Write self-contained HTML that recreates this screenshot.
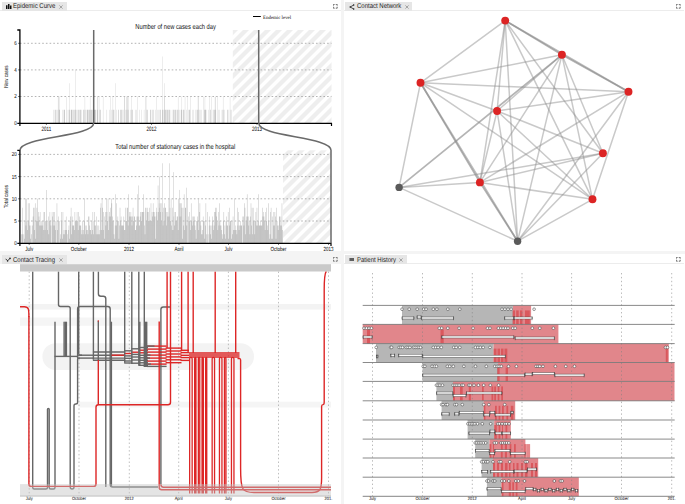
<!DOCTYPE html><html><head><meta charset="utf-8"><style>
html,body{margin:0;padding:0}
body{width:685px;height:504px;overflow:hidden;position:relative;background:#f4f4f4;font-family:"Liberation Sans", sans-serif}
.p{position:absolute;background:#fff;overflow:hidden}
svg text{font-family:"Liberation Sans", sans-serif}
*{text-rendering:geometricPrecision}
</style></head><body>
<div class="p" style="left:0;top:0;width:341px;height:251px"></div>
<div class="p" style="left:344px;top:0;width:341px;height:251px"></div>
<div class="p" style="left:0;top:264px;width:341px;height:240px"></div>
<div class="p" style="left:344px;top:254px;width:341px;height:250px"></div>
<div style="position:absolute;left:0;top:10px;width:341px;height:0.6px;background:#ececec"></div>
<div style="position:absolute;left:344px;top:10px;width:340px;height:0.6px;background:#ececec"></div>
<div style="position:absolute;left:344px;top:263.4px;width:340px;height:0.6px;background:#ececec"></div>
<div style="position:absolute;left:2px;top:2px;width:65px;height:8.8px;background:#e6e6e6"></div><svg style="position:absolute;left:5.6px;top:3.9px" width="6" height="5" viewBox="0 0 6 5"><path d="M0 1.2h1.5v3.8h-1.5zM2 0h1.5v5h-1.5zM4 1.6h1.5v3.4h-1.5z" fill="#111"/></svg><svg style="position:absolute;left:13px;top:2px;overflow:visible" width="60" height="8.8"><text transform="translate(0 6.0) scale(1 1.15)" font-size="6" fill="#222">Epidemic Curve</text></svg>
<svg style="position:absolute;left:58.5px;top:4.5px" width="4" height="4" viewBox="0 0 4 4"><path d="M0.4 0.4L3.6 3.6M3.6 0.4L0.4 3.6" stroke="#777" stroke-width="0.6"/></svg>
<svg style="position:absolute;left:333px;top:3.8px" width="5" height="5" viewBox="0 0 5 5"><rect x="0.5" y="0.5" width="3.6" height="3.6" fill="none" stroke="#bbb" stroke-width="0.5"/><path d="M0.4 1.6V0.4H1.6M3 0.4H4.2V1.6M4.2 3V4.2H3M1.6 4.2H0.4V3" fill="none" stroke="#555" stroke-width="0.7"/></svg>
<div style="position:absolute;left:345.2px;top:2.1px;width:66.4px;height:8.7px;background:#e6e6e6"></div><svg style="position:absolute;left:348.6px;top:3.6px" width="6" height="6" viewBox="0 0 6 6"><path d="M4.7 1L1.2 3L4.7 5" fill="none" stroke="#222" stroke-width="0.8"/><circle cx="4.7" cy="1" r="0.75" fill="#222"/><circle cx="1.2" cy="3" r="0.75" fill="#222"/><circle cx="4.7" cy="5" r="0.75" fill="#222"/></svg><svg style="position:absolute;left:356.5px;top:2.1px;overflow:visible" width="60" height="8.7"><text transform="translate(0 6.0) scale(1 1.15)" font-size="6" fill="#222">Contact Network</text></svg>
<svg style="position:absolute;left:404.5px;top:4.5px" width="4" height="4" viewBox="0 0 4 4"><path d="M0.4 0.4L3.6 3.6M3.6 0.4L0.4 3.6" stroke="#777" stroke-width="0.6"/></svg>
<svg style="position:absolute;left:676.3px;top:3.8px" width="5" height="5" viewBox="0 0 5 5"><rect x="0.5" y="0.5" width="3.6" height="3.6" fill="none" stroke="#bbb" stroke-width="0.5"/><path d="M0.4 1.6V0.4H1.6M3 0.4H4.2V1.6M4.2 3V4.2H3M1.6 4.2H0.4V3" fill="none" stroke="#555" stroke-width="0.7"/></svg>
<div style="position:absolute;left:2px;top:255px;width:65px;height:9px;background:#e6e6e6"></div><svg style="position:absolute;left:5px;top:256.8px" width="6" height="6" viewBox="0 0 6 6"><path d="M0.6 1.8L2.6 3.8L5 1.4" fill="none" stroke="#222" stroke-width="0.9"/><circle cx="5" cy="1.4" r="0.8" fill="#222"/><circle cx="2.6" cy="4" r="0.7" fill="#222"/></svg><svg style="position:absolute;left:13px;top:255px;overflow:visible" width="60" height="9"><text transform="translate(0 6.6) scale(1 1.15)" font-size="6" fill="#222">Contact Tracing</text></svg>
<svg style="position:absolute;left:58.5px;top:257.5px" width="4" height="4" viewBox="0 0 4 4"><path d="M0.4 0.4L3.6 3.6M3.6 0.4L0.4 3.6" stroke="#777" stroke-width="0.6"/></svg>
<svg style="position:absolute;left:333px;top:256.6px" width="5" height="5" viewBox="0 0 5 5"><rect x="0.5" y="0.5" width="3.6" height="3.6" fill="none" stroke="#bbb" stroke-width="0.5"/><path d="M0.4 1.6V0.4H1.6M3 0.4H4.2V1.6M4.2 3V4.2H3M1.6 4.2H0.4V3" fill="none" stroke="#555" stroke-width="0.7"/></svg>
<div style="position:absolute;left:345.1px;top:255.1px;width:61.6px;height:8.8px;background:#e6e6e6"></div><svg style="position:absolute;left:348.5px;top:257.1px" width="6" height="5" viewBox="0 0 6 5"><path d="M0.4 1.1h4.6v0.75h-4.6zM0.4 2.1h4.6v0.75h-4.6zM0.4 3.1h4.6v0.75h-4.6z" fill="#333"/></svg><svg style="position:absolute;left:356.5px;top:255.1px;overflow:visible" width="60" height="8.8"><text transform="translate(0 6.5) scale(1 1.15)" font-size="6" fill="#222">Patient History</text></svg>
<svg style="position:absolute;left:398.8px;top:257.6px" width="4" height="4" viewBox="0 0 4 4"><path d="M0.4 0.4L3.6 3.6M3.6 0.4L0.4 3.6" stroke="#777" stroke-width="0.6"/></svg>
<svg style="position:absolute;left:676.3px;top:256.6px" width="5" height="5" viewBox="0 0 5 5"><rect x="0.5" y="0.5" width="3.6" height="3.6" fill="none" stroke="#bbb" stroke-width="0.5"/><path d="M0.4 1.6V0.4H1.6M3 0.4H4.2V1.6M4.2 3V4.2H3M1.6 4.2H0.4V3" fill="none" stroke="#555" stroke-width="0.7"/></svg>
<svg style="position:absolute;left:0;top:0" width="341" height="251" viewBox="0 0 341 251">
<defs><pattern id="h1" patternUnits="userSpaceOnUse" width="11" height="11" x="1" y="0"><path d="M-3 3L3 -3M0 11L11 0M8 14L14 8" stroke="#eeeeee" stroke-width="4.3"/></pattern><pattern id="h2" patternUnits="userSpaceOnUse" width="11" height="11" x="1" y="0"><path d="M-3 3L3 -3M0 11L11 0M8 14L14 8" stroke="#eeeeee" stroke-width="4.3"/></pattern></defs>
<rect x="232.8" y="30" width="98.7" height="93.1" fill="url(#h1)"/>
<line x1="20" x2="331.5" y1="96.50" y2="96.50" stroke="#8a8a8a" stroke-width="0.65" stroke-dasharray="1.6 2.1"/>
<line x1="20" x2="331.5" y1="69.90" y2="69.90" stroke="#8a8a8a" stroke-width="0.65" stroke-dasharray="1.6 2.1"/>
<line x1="20" x2="331.5" y1="43.30" y2="43.30" stroke="#8a8a8a" stroke-width="0.65" stroke-dasharray="1.6 2.1"/>
<path d="M53.61 109.80h0.32V123.1h-0.32zM54.77 109.80h0.32V123.1h-0.32zM55.05 109.80h0.32V123.1h-0.32zM55.34 109.80h0.32V123.1h-0.32zM56.21 109.80h0.32V123.1h-0.32zM57.65 109.80h0.32V123.1h-0.32zM57.94 96.50h0.32V123.1h-0.32zM58.23 96.50h0.32V123.1h-0.32zM58.81 109.80h0.32V123.1h-0.32zM59.09 109.80h0.32V123.1h-0.32zM59.38 109.80h0.32V123.1h-0.32zM59.67 96.50h0.32V123.1h-0.32zM62.27 109.80h0.32V123.1h-0.32zM63.71 109.80h0.32V123.1h-0.32zM64.00 109.80h0.32V123.1h-0.32zM64.29 109.80h0.32V123.1h-0.32zM64.58 109.80h0.32V123.1h-0.32zM66.59 96.50h0.32V123.1h-0.32zM66.88 109.80h0.32V123.1h-0.32zM68.33 109.80h0.32V123.1h-0.32zM69.19 109.80h0.32V123.1h-0.32zM69.48 83.20h0.32V123.1h-0.32zM69.77 109.80h0.32V123.1h-0.32zM70.92 109.80h0.32V123.1h-0.32zM71.21 109.80h0.32V123.1h-0.32zM71.50 109.80h0.32V123.1h-0.32zM71.79 109.80h0.32V123.1h-0.32zM72.36 109.80h0.32V123.1h-0.32zM73.23 109.80h0.32V123.1h-0.32zM73.81 109.80h0.32V123.1h-0.32zM74.38 109.80h0.32V123.1h-0.32zM74.96 109.80h0.32V123.1h-0.32zM75.25 69.90h0.32V123.1h-0.32zM75.54 109.80h0.32V123.1h-0.32zM76.40 109.80h0.32V123.1h-0.32zM76.98 109.80h0.32V123.1h-0.32zM78.13 109.80h0.32V123.1h-0.32zM78.71 109.80h0.32V123.1h-0.32zM79.00 109.80h0.32V123.1h-0.32zM79.87 109.80h0.32V123.1h-0.32zM80.15 109.80h0.32V123.1h-0.32zM80.44 109.80h0.32V123.1h-0.32zM81.02 109.80h0.32V123.1h-0.32zM83.33 109.80h0.32V123.1h-0.32zM83.62 109.80h0.32V123.1h-0.32zM84.48 109.80h0.32V123.1h-0.32zM84.77 96.50h0.32V123.1h-0.32zM85.06 109.80h0.32V123.1h-0.32zM85.92 109.80h0.32V123.1h-0.32zM87.08 109.80h0.32V123.1h-0.32zM87.37 109.80h0.32V123.1h-0.32zM87.66 109.80h0.32V123.1h-0.32zM88.23 109.80h0.32V123.1h-0.32zM88.81 109.80h0.32V123.1h-0.32zM89.39 109.80h0.32V123.1h-0.32zM89.67 109.80h0.32V123.1h-0.32zM89.96 96.50h0.32V123.1h-0.32zM90.25 109.80h0.32V123.1h-0.32zM90.83 109.80h0.32V123.1h-0.32zM91.12 109.80h0.32V123.1h-0.32zM91.41 109.80h0.32V123.1h-0.32zM92.27 109.80h0.32V123.1h-0.32zM92.85 109.80h0.32V123.1h-0.32zM93.14 96.50h0.32V123.1h-0.32zM93.43 109.80h0.32V123.1h-0.32zM93.71 109.80h0.32V123.1h-0.32zM94.00 109.80h0.32V123.1h-0.32zM94.29 109.80h0.32V123.1h-0.32zM94.58 109.80h0.32V123.1h-0.32zM94.87 109.80h0.32V123.1h-0.32zM95.16 109.80h0.32V123.1h-0.32zM95.44 109.80h0.32V123.1h-0.32zM96.89 109.80h0.32V123.1h-0.32zM97.18 109.80h0.32V123.1h-0.32zM97.46 96.50h0.32V123.1h-0.32zM97.75 96.50h0.32V123.1h-0.32zM98.91 96.50h0.32V123.1h-0.32zM99.48 109.80h0.32V123.1h-0.32zM100.06 109.80h0.32V123.1h-0.32zM100.64 109.80h0.32V123.1h-0.32zM102.95 96.50h0.32V123.1h-0.32zM106.70 109.80h0.32V123.1h-0.32zM109.58 109.80h0.32V123.1h-0.32zM110.16 96.50h0.32V123.1h-0.32zM111.02 109.80h0.32V123.1h-0.32zM112.47 109.80h0.32V123.1h-0.32zM112.75 96.50h0.32V123.1h-0.32zM113.04 109.80h0.32V123.1h-0.32zM113.62 109.80h0.32V123.1h-0.32zM113.91 109.80h0.32V123.1h-0.32zM115.64 83.20h0.32V123.1h-0.32zM116.22 109.80h0.32V123.1h-0.32zM118.24 109.80h0.32V123.1h-0.32zM118.53 109.80h0.32V123.1h-0.32zM120.26 109.80h0.32V123.1h-0.32zM120.54 109.80h0.32V123.1h-0.32zM121.12 109.80h0.32V123.1h-0.32zM121.41 109.80h0.32V123.1h-0.32zM122.56 109.80h0.32V123.1h-0.32zM123.72 109.80h0.32V123.1h-0.32zM124.01 96.50h0.32V123.1h-0.32zM124.58 96.50h0.32V123.1h-0.32zM125.45 109.80h0.32V123.1h-0.32zM126.03 96.50h0.32V123.1h-0.32zM126.31 109.80h0.32V123.1h-0.32zM126.89 96.50h0.32V123.1h-0.32zM127.18 96.50h0.32V123.1h-0.32zM127.76 109.80h0.32V123.1h-0.32zM128.05 109.80h0.32V123.1h-0.32zM128.33 96.50h0.32V123.1h-0.32zM130.64 109.80h0.32V123.1h-0.32zM131.22 109.80h0.32V123.1h-0.32zM131.51 96.50h0.32V123.1h-0.32zM132.37 109.80h0.32V123.1h-0.32zM132.66 109.80h0.32V123.1h-0.32zM135.26 109.80h0.32V123.1h-0.32zM136.12 109.80h0.32V123.1h-0.32zM136.99 96.50h0.32V123.1h-0.32zM139.59 109.80h0.32V123.1h-0.32zM141.03 109.80h0.32V123.1h-0.32zM143.91 109.80h0.32V123.1h-0.32zM145.36 96.50h0.32V123.1h-0.32zM145.93 96.50h0.32V123.1h-0.32zM146.51 109.80h0.32V123.1h-0.32zM147.38 109.80h0.32V123.1h-0.32zM147.66 109.80h0.32V123.1h-0.32zM149.97 109.80h0.32V123.1h-0.32zM150.26 109.80h0.32V123.1h-0.32zM150.84 109.80h0.32V123.1h-0.32zM152.57 109.80h0.32V123.1h-0.32zM152.86 109.80h0.32V123.1h-0.32zM153.72 109.80h0.32V123.1h-0.32zM155.16 109.80h0.32V123.1h-0.32zM156.32 96.50h0.32V123.1h-0.32zM157.18 109.80h0.32V123.1h-0.32zM158.63 109.80h0.32V123.1h-0.32zM159.20 109.80h0.32V123.1h-0.32zM160.07 109.80h0.32V123.1h-0.32zM160.65 109.80h0.32V123.1h-0.32zM162.09 109.80h0.32V123.1h-0.32zM162.38 56.60h0.32V123.1h-0.32zM162.67 109.80h0.32V123.1h-0.32zM163.53 109.80h0.32V123.1h-0.32zM164.11 96.50h0.32V123.1h-0.32zM164.40 83.20h0.32V123.1h-0.32zM164.69 109.80h0.32V123.1h-0.32zM164.97 109.80h0.32V123.1h-0.32zM165.55 109.80h0.32V123.1h-0.32zM165.84 109.80h0.32V123.1h-0.32zM166.42 109.80h0.32V123.1h-0.32zM166.99 109.80h0.32V123.1h-0.32zM167.57 109.80h0.32V123.1h-0.32zM167.86 109.80h0.32V123.1h-0.32zM168.72 109.80h0.32V123.1h-0.32zM169.01 109.80h0.32V123.1h-0.32zM169.59 109.80h0.32V123.1h-0.32zM169.88 109.80h0.32V123.1h-0.32zM171.90 109.80h0.32V123.1h-0.32zM173.05 109.80h0.32V123.1h-0.32zM173.34 109.80h0.32V123.1h-0.32zM173.92 109.80h0.32V123.1h-0.32zM174.78 109.80h0.32V123.1h-0.32zM175.07 109.80h0.32V123.1h-0.32zM175.65 109.80h0.32V123.1h-0.32zM175.94 109.80h0.32V123.1h-0.32zM177.09 109.80h0.32V123.1h-0.32zM177.38 109.80h0.32V123.1h-0.32zM177.96 96.50h0.32V123.1h-0.32zM178.24 109.80h0.32V123.1h-0.32zM179.40 109.80h0.32V123.1h-0.32zM180.84 109.80h0.32V123.1h-0.32zM181.13 109.80h0.32V123.1h-0.32zM181.42 109.80h0.32V123.1h-0.32zM181.71 96.50h0.32V123.1h-0.32zM182.86 109.80h0.32V123.1h-0.32zM183.15 109.80h0.32V123.1h-0.32zM183.44 109.80h0.32V123.1h-0.32zM184.59 109.80h0.32V123.1h-0.32zM184.88 96.50h0.32V123.1h-0.32zM186.03 109.80h0.32V123.1h-0.32zM187.48 96.50h0.32V123.1h-0.32zM188.34 109.80h0.32V123.1h-0.32zM189.21 109.80h0.32V123.1h-0.32zM189.50 109.80h0.32V123.1h-0.32zM189.78 109.80h0.32V123.1h-0.32zM190.36 96.50h0.32V123.1h-0.32zM192.09 109.80h0.32V123.1h-0.32zM193.53 109.80h0.32V123.1h-0.32zM194.98 109.80h0.32V123.1h-0.32zM196.71 109.80h0.32V123.1h-0.32zM197.29 109.80h0.32V123.1h-0.32zM197.57 109.80h0.32V123.1h-0.32zM197.86 96.50h0.32V123.1h-0.32zM198.44 96.50h0.32V123.1h-0.32zM198.73 109.80h0.32V123.1h-0.32zM199.59 109.80h0.32V123.1h-0.32zM200.46 109.80h0.32V123.1h-0.32zM201.61 109.80h0.32V123.1h-0.32zM203.34 96.50h0.32V123.1h-0.32zM204.21 109.80h0.32V123.1h-0.32zM204.50 109.80h0.32V123.1h-0.32zM204.79 96.50h0.32V123.1h-0.32zM205.07 109.80h0.32V123.1h-0.32zM205.36 109.80h0.32V123.1h-0.32zM205.65 109.80h0.32V123.1h-0.32zM205.94 109.80h0.32V123.1h-0.32zM208.54 109.80h0.32V123.1h-0.32zM209.40 96.50h0.32V123.1h-0.32zM209.98 109.80h0.32V123.1h-0.32zM210.56 109.80h0.32V123.1h-0.32zM211.42 96.50h0.32V123.1h-0.32zM212.86 109.80h0.32V123.1h-0.32zM213.15 109.80h0.32V123.1h-0.32zM214.02 109.80h0.32V123.1h-0.32zM214.60 109.80h0.32V123.1h-0.32zM214.88 96.50h0.32V123.1h-0.32zM215.17 109.80h0.32V123.1h-0.32zM215.46 96.50h0.32V123.1h-0.32zM215.75 109.80h0.32V123.1h-0.32zM217.19 96.50h0.32V123.1h-0.32zM218.06 109.80h0.32V123.1h-0.32zM219.50 109.80h0.32V123.1h-0.32zM221.81 109.80h0.32V123.1h-0.32zM222.67 109.80h0.32V123.1h-0.32zM222.96 96.50h0.32V123.1h-0.32zM223.54 109.80h0.32V123.1h-0.32zM224.69 109.80h0.32V123.1h-0.32zM227.00 109.80h0.32V123.1h-0.32zM227.29 109.80h0.32V123.1h-0.32zM228.73 109.80h0.32V123.1h-0.32zM229.89 96.50h0.32V123.1h-0.32zM230.75 109.80h0.32V123.1h-0.32zM231.04 109.80h0.32V123.1h-0.32z" fill="#c6c6c6"/>
<path d="M17.3 30H19.9V123.4H17.3" fill="none" stroke="#000" stroke-width="1.3"/>
<path d="M19.9 125.9V123.4H331.5V125.9" fill="none" stroke="#000" stroke-width="1.2"/>
<line x1="18" x2="20" y1="96.50" y2="96.50" stroke="#000" stroke-width="0.5"/>
<line x1="18" x2="20" y1="69.90" y2="69.90" stroke="#000" stroke-width="0.5"/>
<line x1="18" x2="20" y1="43.30" y2="43.30" stroke="#000" stroke-width="0.5"/>
<line x1="46.4" x2="46.4" y1="123.1" y2="125" stroke="#000" stroke-width="0.5"/>
<line x1="151.5" x2="151.5" y1="123.1" y2="125" stroke="#000" stroke-width="0.5"/>
<line x1="257" x2="257" y1="123.1" y2="125" stroke="#000" stroke-width="0.5"/>
<text transform="translate(16.8 125.0) scale(1 1.3)" font-size="4.5" text-anchor="end" fill="#000">0</text>
<text transform="translate(16.8 98.4) scale(1 1.3)" font-size="4.5" text-anchor="end" fill="#000">2</text>
<text transform="translate(16.8 71.8) scale(1 1.3)" font-size="4.5" text-anchor="end" fill="#000">4</text>
<text transform="translate(16.8 45.19999999999998) scale(1 1.3)" font-size="4.5" text-anchor="end" fill="#000">6</text>
<text transform="translate(46.4 130.9) scale(1 1.4)" font-size="4.5" text-anchor="middle" fill="#000">2011</text>
<text transform="translate(151.5 130.9) scale(1 1.4)" font-size="4.5" text-anchor="middle" fill="#000">2012</text>
<text transform="translate(257 130.9) scale(1 1.4)" font-size="4.5" text-anchor="middle" fill="#000">2013</text>
<text transform="translate(8.3 76.6) rotate(-90) scale(1 1.25)" font-size="4.6" text-anchor="middle" fill="#000">New cases</text>
<text transform="translate(175.6 29.0) scale(1 1.25)" font-size="5.75" text-anchor="middle" fill="#111">Number of new cases each day</text>
<line x1="253" x2="260.8" y1="16.5" y2="16.5" stroke="#000" stroke-width="1"/>
<text x="263" y="18.6" font-size="4.9" fill="#000" style="font-family:'Liberation Serif',serif">Endemic level</text>
<rect x="283" y="150.3" width="48" height="92.9" fill="url(#h2)"/>
<line x1="20" x2="331" y1="221.00" y2="221.00" stroke="#8a8a8a" stroke-width="0.65" stroke-dasharray="1.6 2.1"/>
<line x1="20" x2="331" y1="198.80" y2="198.80" stroke="#8a8a8a" stroke-width="0.65" stroke-dasharray="1.6 2.1"/>
<line x1="20" x2="331" y1="176.60" y2="176.60" stroke="#8a8a8a" stroke-width="0.65" stroke-dasharray="1.6 2.1"/>
<line x1="20" x2="331" y1="154.40" y2="154.40" stroke="#8a8a8a" stroke-width="0.65" stroke-dasharray="1.6 2.1"/>
<path d="M21.39 234.32h0.5V243.2h-0.5zM21.93 234.32h0.5V243.2h-0.5zM22.47 207.68h0.5V243.2h-0.5zM23.56 234.32h0.5V243.2h-0.5zM24.10 238.76h0.5V243.2h-0.5zM24.65 221.00h0.5V243.2h-0.5zM25.19 198.80h0.5V243.2h-0.5zM25.73 225.44h0.5V243.2h-0.5zM26.28 198.80h0.5V243.2h-0.5zM26.82 221.00h0.5V243.2h-0.5zM27.37 229.88h0.5V243.2h-0.5zM27.91 203.24h0.5V243.2h-0.5zM28.45 221.00h0.5V243.2h-0.5zM29.00 203.24h0.5V243.2h-0.5zM29.54 225.44h0.5V243.2h-0.5zM30.08 238.76h0.5V243.2h-0.5zM30.63 225.44h0.5V243.2h-0.5zM31.17 234.32h0.5V243.2h-0.5zM32.26 225.44h0.5V243.2h-0.5zM32.80 216.56h0.5V243.2h-0.5zM33.34 207.68h0.5V243.2h-0.5zM33.89 207.68h0.5V243.2h-0.5zM34.43 229.88h0.5V243.2h-0.5zM34.97 203.24h0.5V243.2h-0.5zM35.52 238.76h0.5V243.2h-0.5zM36.06 221.00h0.5V243.2h-0.5zM36.61 207.68h0.5V243.2h-0.5zM37.15 198.80h0.5V243.2h-0.5zM37.69 221.00h0.5V243.2h-0.5zM38.24 212.12h0.5V243.2h-0.5zM38.78 216.56h0.5V243.2h-0.5zM39.32 225.44h0.5V243.2h-0.5zM39.87 212.12h0.5V243.2h-0.5zM40.41 225.44h0.5V243.2h-0.5zM40.95 221.00h0.5V243.2h-0.5zM41.50 225.44h0.5V243.2h-0.5zM42.04 221.00h0.5V243.2h-0.5zM42.58 225.44h0.5V243.2h-0.5zM43.13 229.88h0.5V243.2h-0.5zM43.67 212.12h0.5V243.2h-0.5zM44.21 212.12h0.5V243.2h-0.5zM44.76 229.88h0.5V243.2h-0.5zM45.30 221.00h0.5V243.2h-0.5zM45.84 221.00h0.5V243.2h-0.5zM46.39 189.92h0.5V243.2h-0.5zM46.93 221.00h0.5V243.2h-0.5zM47.48 229.88h0.5V243.2h-0.5zM48.02 216.56h0.5V243.2h-0.5zM48.56 234.32h0.5V243.2h-0.5zM49.11 221.00h0.5V243.2h-0.5zM49.65 212.12h0.5V243.2h-0.5zM50.19 221.00h0.5V243.2h-0.5zM50.74 225.44h0.5V243.2h-0.5zM51.82 212.12h0.5V243.2h-0.5zM52.37 216.56h0.5V243.2h-0.5zM52.91 225.44h0.5V243.2h-0.5zM53.45 212.12h0.5V243.2h-0.5zM54.00 212.12h0.5V243.2h-0.5zM54.54 225.44h0.5V243.2h-0.5zM55.08 229.88h0.5V243.2h-0.5zM55.63 221.00h0.5V243.2h-0.5zM56.71 203.24h0.5V243.2h-0.5zM57.26 229.88h0.5V243.2h-0.5zM57.80 221.00h0.5V243.2h-0.5zM58.34 216.56h0.5V243.2h-0.5zM59.43 221.00h0.5V243.2h-0.5zM59.98 238.76h0.5V243.2h-0.5zM60.52 234.32h0.5V243.2h-0.5zM61.06 212.12h0.5V243.2h-0.5zM61.61 221.00h0.5V243.2h-0.5zM62.15 238.76h0.5V243.2h-0.5zM62.69 212.12h0.5V243.2h-0.5zM63.24 234.32h0.5V243.2h-0.5zM63.78 229.88h0.5V243.2h-0.5zM64.32 234.32h0.5V243.2h-0.5zM64.87 221.00h0.5V243.2h-0.5zM65.41 229.88h0.5V243.2h-0.5zM65.95 216.56h0.5V243.2h-0.5zM66.50 229.88h0.5V243.2h-0.5zM67.04 234.32h0.5V243.2h-0.5zM68.13 229.88h0.5V243.2h-0.5zM68.67 225.44h0.5V243.2h-0.5zM69.22 238.76h0.5V243.2h-0.5zM69.76 221.00h0.5V243.2h-0.5zM70.30 216.56h0.5V243.2h-0.5zM70.85 207.68h0.5V243.2h-0.5zM71.39 234.32h0.5V243.2h-0.5zM71.93 216.56h0.5V243.2h-0.5zM72.48 225.44h0.5V243.2h-0.5zM73.02 225.44h0.5V243.2h-0.5zM73.56 225.44h0.5V243.2h-0.5zM74.11 229.88h0.5V243.2h-0.5zM74.65 212.12h0.5V243.2h-0.5zM75.19 221.00h0.5V243.2h-0.5zM75.74 221.00h0.5V243.2h-0.5zM76.28 221.00h0.5V243.2h-0.5zM76.82 212.12h0.5V243.2h-0.5zM77.37 221.00h0.5V243.2h-0.5zM77.91 229.88h0.5V243.2h-0.5zM78.45 212.12h0.5V243.2h-0.5zM79.00 225.44h0.5V243.2h-0.5zM79.54 216.56h0.5V243.2h-0.5zM80.09 225.44h0.5V243.2h-0.5zM80.63 225.44h0.5V243.2h-0.5zM81.17 234.32h0.5V243.2h-0.5zM81.72 229.88h0.5V243.2h-0.5zM82.26 221.00h0.5V243.2h-0.5zM82.80 234.32h0.5V243.2h-0.5zM83.35 229.88h0.5V243.2h-0.5zM83.89 221.00h0.5V243.2h-0.5zM84.43 198.80h0.5V243.2h-0.5zM84.98 234.32h0.5V243.2h-0.5zM85.52 225.44h0.5V243.2h-0.5zM86.06 225.44h0.5V243.2h-0.5zM86.61 229.88h0.5V243.2h-0.5zM87.15 229.88h0.5V243.2h-0.5zM87.69 234.32h0.5V243.2h-0.5zM88.24 216.56h0.5V243.2h-0.5zM88.78 216.56h0.5V243.2h-0.5zM89.32 225.44h0.5V243.2h-0.5zM89.87 229.88h0.5V243.2h-0.5zM90.41 229.88h0.5V243.2h-0.5zM90.95 234.32h0.5V243.2h-0.5zM91.50 221.00h0.5V243.2h-0.5zM92.04 229.88h0.5V243.2h-0.5zM92.59 212.12h0.5V243.2h-0.5zM93.13 234.32h0.5V243.2h-0.5zM93.67 221.00h0.5V243.2h-0.5zM94.22 212.12h0.5V243.2h-0.5zM94.76 225.44h0.5V243.2h-0.5zM95.30 225.44h0.5V243.2h-0.5zM95.85 234.32h0.5V243.2h-0.5zM96.39 216.56h0.5V243.2h-0.5zM96.93 225.44h0.5V243.2h-0.5zM97.48 234.32h0.5V243.2h-0.5zM98.02 234.32h0.5V243.2h-0.5zM98.56 225.44h0.5V243.2h-0.5zM99.11 234.32h0.5V243.2h-0.5zM99.65 229.88h0.5V243.2h-0.5zM100.19 207.68h0.5V243.2h-0.5zM100.74 203.24h0.5V243.2h-0.5zM101.28 229.88h0.5V243.2h-0.5zM101.83 198.80h0.5V243.2h-0.5zM102.37 207.68h0.5V243.2h-0.5zM102.91 229.88h0.5V243.2h-0.5zM103.46 212.12h0.5V243.2h-0.5zM104.00 238.76h0.5V243.2h-0.5zM104.54 216.56h0.5V243.2h-0.5zM105.09 212.12h0.5V243.2h-0.5zM105.63 225.44h0.5V243.2h-0.5zM106.17 198.80h0.5V243.2h-0.5zM106.72 212.12h0.5V243.2h-0.5zM107.26 221.00h0.5V243.2h-0.5zM107.80 198.80h0.5V243.2h-0.5zM108.35 229.88h0.5V243.2h-0.5zM108.89 216.56h0.5V243.2h-0.5zM109.43 212.12h0.5V243.2h-0.5zM109.98 207.68h0.5V243.2h-0.5zM110.52 216.56h0.5V243.2h-0.5zM111.06 198.80h0.5V243.2h-0.5zM111.61 203.24h0.5V243.2h-0.5zM112.15 216.56h0.5V243.2h-0.5zM112.69 221.00h0.5V243.2h-0.5zM113.24 221.00h0.5V243.2h-0.5zM113.78 234.32h0.5V243.2h-0.5zM114.33 238.76h0.5V243.2h-0.5zM114.87 225.44h0.5V243.2h-0.5zM115.41 194.36h0.5V243.2h-0.5zM115.96 225.44h0.5V243.2h-0.5zM116.50 203.24h0.5V243.2h-0.5zM117.04 221.00h0.5V243.2h-0.5zM117.59 216.56h0.5V243.2h-0.5zM118.13 221.00h0.5V243.2h-0.5zM118.67 238.76h0.5V243.2h-0.5zM119.22 225.44h0.5V243.2h-0.5zM119.76 207.68h0.5V243.2h-0.5zM120.30 221.00h0.5V243.2h-0.5zM120.85 216.56h0.5V243.2h-0.5zM121.39 225.44h0.5V243.2h-0.5zM121.93 225.44h0.5V243.2h-0.5zM122.48 225.44h0.5V243.2h-0.5zM123.02 225.44h0.5V243.2h-0.5zM123.56 216.56h0.5V243.2h-0.5zM124.11 229.88h0.5V243.2h-0.5zM124.65 229.88h0.5V243.2h-0.5zM125.20 207.68h0.5V243.2h-0.5zM125.74 221.00h0.5V243.2h-0.5zM126.28 221.00h0.5V243.2h-0.5zM126.83 207.68h0.5V243.2h-0.5zM127.37 207.68h0.5V243.2h-0.5zM127.91 225.44h0.5V243.2h-0.5zM128.46 194.36h0.5V243.2h-0.5zM129.00 212.12h0.5V243.2h-0.5zM129.54 216.56h0.5V243.2h-0.5zM130.09 216.56h0.5V243.2h-0.5zM130.63 212.12h0.5V243.2h-0.5zM131.17 216.56h0.5V243.2h-0.5zM131.72 225.44h0.5V243.2h-0.5zM132.26 216.56h0.5V243.2h-0.5zM132.80 207.68h0.5V243.2h-0.5zM133.35 221.00h0.5V243.2h-0.5zM133.89 216.56h0.5V243.2h-0.5zM134.44 216.56h0.5V243.2h-0.5zM134.98 229.88h0.5V243.2h-0.5zM135.52 229.88h0.5V243.2h-0.5zM136.07 225.44h0.5V243.2h-0.5zM136.61 216.56h0.5V243.2h-0.5zM137.15 194.36h0.5V243.2h-0.5zM137.70 216.56h0.5V243.2h-0.5zM138.24 216.56h0.5V243.2h-0.5zM138.78 225.44h0.5V243.2h-0.5zM139.33 225.44h0.5V243.2h-0.5zM139.87 216.56h0.5V243.2h-0.5zM140.41 212.12h0.5V243.2h-0.5zM140.96 212.12h0.5V243.2h-0.5zM141.50 221.00h0.5V243.2h-0.5zM142.04 212.12h0.5V243.2h-0.5zM142.59 212.12h0.5V243.2h-0.5zM143.13 194.36h0.5V243.2h-0.5zM143.67 212.12h0.5V243.2h-0.5zM144.22 225.44h0.5V243.2h-0.5zM144.76 234.32h0.5V243.2h-0.5zM145.31 207.68h0.5V243.2h-0.5zM145.85 207.68h0.5V243.2h-0.5zM146.39 221.00h0.5V243.2h-0.5zM146.94 212.12h0.5V243.2h-0.5zM147.48 207.68h0.5V243.2h-0.5zM148.02 212.12h0.5V243.2h-0.5zM148.57 221.00h0.5V243.2h-0.5zM149.11 207.68h0.5V243.2h-0.5zM149.65 221.00h0.5V243.2h-0.5zM150.20 221.00h0.5V243.2h-0.5zM150.74 203.24h0.5V243.2h-0.5zM151.28 221.00h0.5V243.2h-0.5zM151.83 212.12h0.5V243.2h-0.5zM152.37 216.56h0.5V243.2h-0.5zM152.91 203.24h0.5V243.2h-0.5zM153.46 212.12h0.5V243.2h-0.5zM154.00 216.56h0.5V243.2h-0.5zM154.54 212.12h0.5V243.2h-0.5zM155.09 238.76h0.5V243.2h-0.5zM155.63 216.56h0.5V243.2h-0.5zM156.18 207.68h0.5V243.2h-0.5zM156.72 212.12h0.5V243.2h-0.5zM157.26 221.00h0.5V243.2h-0.5zM157.81 185.48h0.5V243.2h-0.5zM158.35 212.12h0.5V243.2h-0.5zM158.89 203.24h0.5V243.2h-0.5zM159.44 207.68h0.5V243.2h-0.5zM159.98 212.12h0.5V243.2h-0.5zM160.52 203.24h0.5V243.2h-0.5zM161.07 221.00h0.5V243.2h-0.5zM161.61 203.24h0.5V243.2h-0.5zM162.15 212.12h0.5V243.2h-0.5zM162.70 225.44h0.5V243.2h-0.5zM163.24 207.68h0.5V243.2h-0.5zM163.78 221.00h0.5V243.2h-0.5zM164.33 203.24h0.5V243.2h-0.5zM164.87 207.68h0.5V243.2h-0.5zM165.41 207.68h0.5V243.2h-0.5zM165.96 212.12h0.5V243.2h-0.5zM166.50 225.44h0.5V243.2h-0.5zM167.05 216.56h0.5V243.2h-0.5zM167.59 212.12h0.5V243.2h-0.5zM168.13 216.56h0.5V243.2h-0.5zM168.68 198.80h0.5V243.2h-0.5zM169.22 216.56h0.5V243.2h-0.5zM169.76 207.68h0.5V243.2h-0.5zM170.31 221.00h0.5V243.2h-0.5zM170.85 198.80h0.5V243.2h-0.5zM171.39 225.44h0.5V243.2h-0.5zM171.94 229.88h0.5V243.2h-0.5zM172.48 207.68h0.5V243.2h-0.5zM173.02 229.88h0.5V243.2h-0.5zM173.57 216.56h0.5V243.2h-0.5zM174.11 225.44h0.5V243.2h-0.5zM174.65 212.12h0.5V243.2h-0.5zM175.20 212.12h0.5V243.2h-0.5zM175.74 221.00h0.5V243.2h-0.5zM176.28 221.00h0.5V243.2h-0.5zM176.83 216.56h0.5V243.2h-0.5zM177.37 216.56h0.5V243.2h-0.5zM177.91 229.88h0.5V243.2h-0.5zM178.46 198.80h0.5V243.2h-0.5zM179.00 216.56h0.5V243.2h-0.5zM179.55 203.24h0.5V243.2h-0.5zM180.09 203.24h0.5V243.2h-0.5zM180.63 216.56h0.5V243.2h-0.5zM181.18 203.24h0.5V243.2h-0.5zM181.72 207.68h0.5V243.2h-0.5zM182.26 238.76h0.5V243.2h-0.5zM182.81 207.68h0.5V243.2h-0.5zM183.35 225.44h0.5V243.2h-0.5zM183.89 194.36h0.5V243.2h-0.5zM184.44 229.88h0.5V243.2h-0.5zM184.98 207.68h0.5V243.2h-0.5zM185.52 207.68h0.5V243.2h-0.5zM186.07 225.44h0.5V243.2h-0.5zM186.61 225.44h0.5V243.2h-0.5zM187.15 198.80h0.5V243.2h-0.5zM188.24 216.56h0.5V243.2h-0.5zM188.78 221.00h0.5V243.2h-0.5zM189.33 212.12h0.5V243.2h-0.5zM189.87 221.00h0.5V243.2h-0.5zM190.42 229.88h0.5V243.2h-0.5zM190.96 203.24h0.5V243.2h-0.5zM191.50 221.00h0.5V243.2h-0.5zM192.05 225.44h0.5V243.2h-0.5zM192.59 216.56h0.5V243.2h-0.5zM193.13 216.56h0.5V243.2h-0.5zM193.68 221.00h0.5V243.2h-0.5zM194.22 216.56h0.5V243.2h-0.5zM194.76 225.44h0.5V243.2h-0.5zM195.31 229.88h0.5V243.2h-0.5zM195.85 238.76h0.5V243.2h-0.5zM196.39 221.00h0.5V243.2h-0.5zM196.94 221.00h0.5V243.2h-0.5zM197.48 216.56h0.5V243.2h-0.5zM198.02 198.80h0.5V243.2h-0.5zM198.57 229.88h0.5V243.2h-0.5zM199.11 212.12h0.5V243.2h-0.5zM199.66 203.24h0.5V243.2h-0.5zM200.20 221.00h0.5V243.2h-0.5zM200.74 225.44h0.5V243.2h-0.5zM201.29 234.32h0.5V243.2h-0.5zM201.83 234.32h0.5V243.2h-0.5zM202.37 229.88h0.5V243.2h-0.5zM202.92 216.56h0.5V243.2h-0.5zM203.46 221.00h0.5V243.2h-0.5zM204.00 221.00h0.5V243.2h-0.5zM204.55 238.76h0.5V243.2h-0.5zM205.09 225.44h0.5V243.2h-0.5zM205.63 203.24h0.5V243.2h-0.5zM206.18 234.32h0.5V243.2h-0.5zM207.26 212.12h0.5V243.2h-0.5zM207.81 234.32h0.5V243.2h-0.5zM208.89 225.44h0.5V243.2h-0.5zM209.44 216.56h0.5V243.2h-0.5zM209.98 225.44h0.5V243.2h-0.5zM210.52 234.32h0.5V243.2h-0.5zM211.07 238.76h0.5V243.2h-0.5zM211.61 225.44h0.5V243.2h-0.5zM212.16 216.56h0.5V243.2h-0.5zM212.70 221.00h0.5V243.2h-0.5zM213.24 229.88h0.5V243.2h-0.5zM213.79 225.44h0.5V243.2h-0.5zM214.33 212.12h0.5V243.2h-0.5zM214.87 212.12h0.5V243.2h-0.5zM215.42 207.68h0.5V243.2h-0.5zM215.96 207.68h0.5V243.2h-0.5zM216.50 216.56h0.5V243.2h-0.5zM217.05 221.00h0.5V243.2h-0.5zM217.59 229.88h0.5V243.2h-0.5zM218.13 212.12h0.5V243.2h-0.5zM218.68 225.44h0.5V243.2h-0.5zM219.22 203.24h0.5V243.2h-0.5zM219.76 221.00h0.5V243.2h-0.5zM220.31 225.44h0.5V243.2h-0.5zM220.85 225.44h0.5V243.2h-0.5zM221.39 229.88h0.5V243.2h-0.5zM221.94 234.32h0.5V243.2h-0.5zM222.48 238.76h0.5V243.2h-0.5zM223.03 221.00h0.5V243.2h-0.5zM223.57 212.12h0.5V243.2h-0.5zM224.11 234.32h0.5V243.2h-0.5zM224.66 225.44h0.5V243.2h-0.5zM225.20 238.76h0.5V243.2h-0.5zM225.74 221.00h0.5V243.2h-0.5zM226.29 216.56h0.5V243.2h-0.5zM226.83 225.44h0.5V243.2h-0.5zM227.37 225.44h0.5V243.2h-0.5zM227.92 212.12h0.5V243.2h-0.5zM228.46 238.76h0.5V243.2h-0.5zM229.00 207.68h0.5V243.2h-0.5zM229.55 225.44h0.5V243.2h-0.5zM230.09 221.00h0.5V243.2h-0.5zM230.63 221.00h0.5V243.2h-0.5zM231.18 238.76h0.5V243.2h-0.5zM231.72 221.00h0.5V243.2h-0.5zM232.26 234.32h0.5V243.2h-0.5zM232.81 216.56h0.5V243.2h-0.5zM233.35 229.88h0.5V243.2h-0.5zM233.90 229.88h0.5V243.2h-0.5zM234.44 198.80h0.5V243.2h-0.5zM234.98 229.88h0.5V243.2h-0.5zM235.53 225.44h0.5V243.2h-0.5zM236.07 229.88h0.5V243.2h-0.5zM236.61 234.32h0.5V243.2h-0.5zM237.16 207.68h0.5V243.2h-0.5zM237.70 225.44h0.5V243.2h-0.5zM238.24 212.12h0.5V243.2h-0.5zM238.79 229.88h0.5V243.2h-0.5zM239.33 225.44h0.5V243.2h-0.5zM239.87 225.44h0.5V243.2h-0.5zM240.42 221.00h0.5V243.2h-0.5zM240.96 225.44h0.5V243.2h-0.5zM241.50 225.44h0.5V243.2h-0.5zM242.59 216.56h0.5V243.2h-0.5zM243.13 216.56h0.5V243.2h-0.5zM243.68 225.44h0.5V243.2h-0.5zM244.22 203.24h0.5V243.2h-0.5zM244.77 207.68h0.5V243.2h-0.5zM245.31 234.32h0.5V243.2h-0.5zM245.85 221.00h0.5V243.2h-0.5zM246.40 216.56h0.5V243.2h-0.5zM246.94 194.36h0.5V243.2h-0.5zM247.48 216.56h0.5V243.2h-0.5zM248.03 216.56h0.5V243.2h-0.5zM248.57 225.44h0.5V243.2h-0.5zM249.11 221.00h0.5V243.2h-0.5zM249.66 234.32h0.5V243.2h-0.5zM250.20 216.56h0.5V243.2h-0.5zM250.74 203.24h0.5V243.2h-0.5zM251.29 225.44h0.5V243.2h-0.5zM251.83 207.68h0.5V243.2h-0.5zM252.37 234.32h0.5V243.2h-0.5zM252.92 207.68h0.5V243.2h-0.5zM253.46 221.00h0.5V243.2h-0.5zM254.00 221.00h0.5V243.2h-0.5zM254.55 234.32h0.5V243.2h-0.5zM255.09 221.00h0.5V243.2h-0.5zM255.64 212.12h0.5V243.2h-0.5zM256.18 225.44h0.5V243.2h-0.5zM256.72 207.68h0.5V243.2h-0.5zM257.27 225.44h0.5V243.2h-0.5zM257.81 221.00h0.5V243.2h-0.5zM258.35 194.36h0.5V243.2h-0.5zM258.90 225.44h0.5V243.2h-0.5zM259.44 225.44h0.5V243.2h-0.5zM259.98 225.44h0.5V243.2h-0.5zM260.53 221.00h0.5V243.2h-0.5zM261.07 225.44h0.5V243.2h-0.5zM261.61 225.44h0.5V243.2h-0.5zM262.16 207.68h0.5V243.2h-0.5zM262.70 216.56h0.5V243.2h-0.5zM263.24 212.12h0.5V243.2h-0.5zM263.79 216.56h0.5V243.2h-0.5zM264.33 221.00h0.5V243.2h-0.5zM264.88 229.88h0.5V243.2h-0.5zM265.42 212.12h0.5V243.2h-0.5zM265.96 221.00h0.5V243.2h-0.5zM266.51 207.68h0.5V243.2h-0.5zM267.05 225.44h0.5V243.2h-0.5zM267.59 229.88h0.5V243.2h-0.5zM268.14 203.24h0.5V243.2h-0.5zM268.68 221.00h0.5V243.2h-0.5zM269.22 238.76h0.5V243.2h-0.5zM269.77 234.32h0.5V243.2h-0.5zM270.31 212.12h0.5V243.2h-0.5zM270.85 207.68h0.5V243.2h-0.5zM271.40 238.76h0.5V243.2h-0.5zM271.94 216.56h0.5V243.2h-0.5zM272.48 238.76h0.5V243.2h-0.5zM273.03 225.44h0.5V243.2h-0.5zM273.57 212.12h0.5V243.2h-0.5zM274.11 225.44h0.5V243.2h-0.5zM274.66 212.12h0.5V243.2h-0.5zM275.20 216.56h0.5V243.2h-0.5zM275.75 238.76h0.5V243.2h-0.5zM276.29 207.68h0.5V243.2h-0.5zM276.83 221.00h0.5V243.2h-0.5zM277.38 225.44h0.5V243.2h-0.5zM277.92 229.88h0.5V243.2h-0.5zM278.46 225.44h0.5V243.2h-0.5zM279.01 216.56h0.5V243.2h-0.5zM279.55 216.56h0.5V243.2h-0.5zM280.09 225.44h0.5V243.2h-0.5zM280.64 216.56h0.5V243.2h-0.5zM281.18 225.44h0.5V243.2h-0.5zM281.72 203.24h0.5V243.2h-0.5zM282.27 229.88h0.5V243.2h-0.5z" fill="#bfbfbf"/>
<rect x="162.3" y="163.28" width="0.5" height="79.92" fill="#c2c2c2"/>
<rect x="169.5" y="163.28" width="0.5" height="79.92" fill="#c2c2c2"/>
<rect x="159.5" y="176.60" width="0.5" height="66.60" fill="#c2c2c2"/>
<rect x="173" y="172.16" width="0.5" height="71.04" fill="#c2c2c2"/>
<rect x="138" y="185.48" width="0.5" height="57.72" fill="#c2c2c2"/>
<rect x="179" y="189.92" width="0.5" height="53.28" fill="#c2c2c2"/>
<rect x="186" y="187.70" width="0.5" height="55.50" fill="#c2c2c2"/>
<path d="M17.3 150.3H19.9V243.4H17.3" fill="none" stroke="#000" stroke-width="1.3"/>
<path d="M19.9 245.9V243.4H331V245.9" fill="none" stroke="#000" stroke-width="1.2"/>
<line x1="18" x2="20" y1="221.00" y2="221.00" stroke="#000" stroke-width="0.5"/>
<text transform="translate(16.8 222.9) scale(1 1.3)" font-size="4.5" text-anchor="end" fill="#000">5</text>
<line x1="18" x2="20" y1="198.80" y2="198.80" stroke="#000" stroke-width="0.5"/>
<text transform="translate(16.8 200.7) scale(1 1.3)" font-size="4.5" text-anchor="end" fill="#000">10</text>
<line x1="18" x2="20" y1="176.60" y2="176.60" stroke="#000" stroke-width="0.5"/>
<text transform="translate(16.8 178.49999999999997) scale(1 1.3)" font-size="4.5" text-anchor="end" fill="#000">15</text>
<line x1="18" x2="20" y1="154.40" y2="154.40" stroke="#000" stroke-width="0.5"/>
<text transform="translate(16.8 156.29999999999998) scale(1 1.3)" font-size="4.5" text-anchor="end" fill="#000">20</text>
<text transform="translate(16.8 245.1) scale(1 1.3)" font-size="4.5" text-anchor="end" fill="#000">0</text>
<line x1="29.2" x2="29.2" y1="243.2" y2="245" stroke="#000" stroke-width="0.5"/>
<text transform="translate(29.2 250.8) scale(1 1.35)" font-size="4.5" text-anchor="middle" fill="#000">July</text>
<line x1="78.8" x2="78.8" y1="243.2" y2="245" stroke="#000" stroke-width="0.5"/>
<text transform="translate(78.8 250.8) scale(1 1.35)" font-size="4.5" text-anchor="middle" fill="#000">October</text>
<line x1="129" x2="129" y1="243.2" y2="245" stroke="#000" stroke-width="0.5"/>
<text transform="translate(129 250.8) scale(1 1.35)" font-size="4.5" text-anchor="middle" fill="#000">2012</text>
<line x1="179" x2="179" y1="243.2" y2="245" stroke="#000" stroke-width="0.5"/>
<text transform="translate(179 250.8) scale(1 1.35)" font-size="4.5" text-anchor="middle" fill="#000">April</text>
<line x1="228.5" x2="228.5" y1="243.2" y2="245" stroke="#000" stroke-width="0.5"/>
<text transform="translate(228.5 250.8) scale(1 1.35)" font-size="4.5" text-anchor="middle" fill="#000">July</text>
<line x1="278.5" x2="278.5" y1="243.2" y2="245" stroke="#000" stroke-width="0.5"/>
<text transform="translate(278.5 250.8) scale(1 1.35)" font-size="4.5" text-anchor="middle" fill="#000">October</text>
<line x1="328.5" x2="328.5" y1="243.2" y2="245" stroke="#000" stroke-width="0.5"/>
<text transform="translate(328.5 250.8) scale(1 1.35)" font-size="4.5" text-anchor="middle" fill="#000">2013</text>
<text transform="translate(7.8 196.5) rotate(-90) scale(1 1.25)" font-size="4.6" text-anchor="middle" fill="#000">Total cases</text>
<text transform="translate(175.25 149.3) scale(1 1.25)" font-size="5.75" text-anchor="middle" fill="#111">Total number of stationary cases in the hospital</text>
<g fill="none" stroke="#6a6a6a" stroke-width="1.5">
<path d="M93.7 30V123.1C93.7 137 20 136.5 20 150.3"/>
<path d="M258.7 30V123.1C258.7 137 331 136.5 331 150.3V243.2"/>
</g>
</svg>
<svg style="position:absolute;left:344px;top:0" width="340" height="251" viewBox="344 0 340 251">
<g stroke="#8c8c8c" stroke-linecap="round">
<line x1="505.2" y1="20.6" x2="561.9" y2="54.8" stroke-width="1.7" stroke-opacity="0.65"/>
<line x1="505.2" y1="20.6" x2="420.5" y2="82.8" stroke-width="1.5" stroke-opacity="0.47"/>
<line x1="505.2" y1="20.6" x2="628.5" y2="91.7" stroke-width="1.7" stroke-opacity="0.59"/>
<line x1="505.2" y1="20.6" x2="497.1" y2="111" stroke-width="1.5" stroke-opacity="0.47"/>
<line x1="505.2" y1="20.6" x2="602.9" y2="153.3" stroke-width="1.5" stroke-opacity="0.47"/>
<line x1="505.2" y1="20.6" x2="479.9" y2="182.4" stroke-width="1.5" stroke-opacity="0.47"/>
<line x1="505.2" y1="20.6" x2="592.5" y2="199.3" stroke-width="1.5" stroke-opacity="0.47"/>
<line x1="505.2" y1="20.6" x2="517.6" y2="241.2" stroke-width="1.5" stroke-opacity="0.47"/>
<line x1="561.9" y1="54.8" x2="420.5" y2="82.8" stroke-width="1.5" stroke-opacity="0.47"/>
<line x1="561.9" y1="54.8" x2="628.5" y2="91.7" stroke-width="1.7" stroke-opacity="0.65"/>
<line x1="561.9" y1="54.8" x2="497.1" y2="111" stroke-width="1.5" stroke-opacity="0.47"/>
<line x1="561.9" y1="54.8" x2="602.9" y2="153.3" stroke-width="1.5" stroke-opacity="0.47"/>
<line x1="561.9" y1="54.8" x2="399.1" y2="187.4" stroke-width="1.7" stroke-opacity="0.65"/>
<line x1="561.9" y1="54.8" x2="479.9" y2="182.4" stroke-width="1.5" stroke-opacity="0.47"/>
<line x1="561.9" y1="54.8" x2="592.5" y2="199.3" stroke-width="1.5" stroke-opacity="0.47"/>
<line x1="561.9" y1="54.8" x2="517.6" y2="241.2" stroke-width="1.5" stroke-opacity="0.47"/>
<line x1="420.5" y1="82.8" x2="628.5" y2="91.7" stroke-width="1.5" stroke-opacity="0.47"/>
<line x1="420.5" y1="82.8" x2="497.1" y2="111" stroke-width="1.5" stroke-opacity="0.47"/>
<line x1="420.5" y1="82.8" x2="399.1" y2="187.4" stroke-width="1.5" stroke-opacity="0.47"/>
<line x1="420.5" y1="82.8" x2="479.9" y2="182.4" stroke-width="1.7" stroke-opacity="0.65"/>
<line x1="420.5" y1="82.8" x2="592.5" y2="199.3" stroke-width="1.5" stroke-opacity="0.47"/>
<line x1="420.5" y1="82.8" x2="517.6" y2="241.2" stroke-width="1.7" stroke-opacity="0.575"/>
<line x1="628.5" y1="91.7" x2="497.1" y2="111" stroke-width="1.5" stroke-opacity="0.47"/>
<line x1="628.5" y1="91.7" x2="479.9" y2="182.4" stroke-width="1.5" stroke-opacity="0.47"/>
<line x1="628.5" y1="91.7" x2="592.5" y2="199.3" stroke-width="1.5" stroke-opacity="0.47"/>
<line x1="628.5" y1="91.7" x2="517.6" y2="241.2" stroke-width="1.5" stroke-opacity="0.47"/>
<line x1="497.1" y1="111" x2="602.9" y2="153.3" stroke-width="1.5" stroke-opacity="0.47"/>
<line x1="497.1" y1="111" x2="479.9" y2="182.4" stroke-width="1.5" stroke-opacity="0.47"/>
<line x1="497.1" y1="111" x2="592.5" y2="199.3" stroke-width="1.5" stroke-opacity="0.47"/>
<line x1="497.1" y1="111" x2="517.6" y2="241.2" stroke-width="1.5" stroke-opacity="0.47"/>
<line x1="602.9" y1="153.3" x2="399.1" y2="187.4" stroke-width="1.5" stroke-opacity="0.47"/>
<line x1="602.9" y1="153.3" x2="479.9" y2="182.4" stroke-width="1.5" stroke-opacity="0.47"/>
<line x1="602.9" y1="153.3" x2="517.6" y2="241.2" stroke-width="1.5" stroke-opacity="0.47"/>
<line x1="399.1" y1="187.4" x2="479.9" y2="182.4" stroke-width="1.5" stroke-opacity="0.47"/>
<line x1="399.1" y1="187.4" x2="517.6" y2="241.2" stroke-width="1.5" stroke-opacity="0.47"/>
<line x1="479.9" y1="182.4" x2="592.5" y2="199.3" stroke-width="1.5" stroke-opacity="0.47"/>
<line x1="479.9" y1="182.4" x2="517.6" y2="241.2" stroke-width="1.7" stroke-opacity="0.65"/>
<line x1="592.5" y1="199.3" x2="517.6" y2="241.2" stroke-width="1.5" stroke-opacity="0.47"/>
</g>
<circle cx="505.2" cy="20.6" r="3.95" fill="#dc2424"/>
<circle cx="561.9" cy="54.8" r="3.95" fill="#dc2424"/>
<circle cx="420.5" cy="82.8" r="3.95" fill="#dc2424"/>
<circle cx="628.5" cy="91.7" r="3.95" fill="#dc2424"/>
<circle cx="497.1" cy="111" r="3.95" fill="#dc2424"/>
<circle cx="602.9" cy="153.3" r="3.95" fill="#dc2424"/>
<circle cx="399.1" cy="187.4" r="3.7" fill="#5a5a5a"/>
<circle cx="479.9" cy="182.4" r="3.95" fill="#dc2424"/>
<circle cx="592.5" cy="199.3" r="3.95" fill="#dc2424"/>
<circle cx="517.6" cy="241.2" r="3.7" fill="#5a5a5a"/>
</svg>
<svg style="position:absolute;left:0;top:253px" width="341" height="251" viewBox="0 253 341 251">
<rect x="20" y="304" width="311" height="5.6" fill="#f3f3f3"/>
<rect x="20" y="317.5" width="140" height="8.3" fill="#f5f5f5"/>
<rect x="42.4" y="343.2" width="211.6" height="26.8" rx="13.4" fill="#f3f3f3"/>
<rect x="78.4" y="401.7" width="252.6" height="5.8" fill="#f5f5f5"/>
<line x1="29.2" x2="29.2" y1="271.5" y2="496" stroke="#8a8a8a" stroke-width="0.55" stroke-dasharray="1.5 2.3"/>
<line x1="79" x2="79" y1="271.5" y2="496" stroke="#8a8a8a" stroke-width="0.55" stroke-dasharray="1.5 2.3"/>
<line x1="129.3" x2="129.3" y1="271.5" y2="496" stroke="#8a8a8a" stroke-width="0.55" stroke-dasharray="1.5 2.3"/>
<line x1="178.7" x2="178.7" y1="271.5" y2="496" stroke="#8a8a8a" stroke-width="0.55" stroke-dasharray="1.5 2.3"/>
<line x1="228.4" x2="228.4" y1="271.5" y2="496" stroke="#8a8a8a" stroke-width="0.55" stroke-dasharray="1.5 2.3"/>
<line x1="278.5" x2="278.5" y1="271.5" y2="496" stroke="#8a8a8a" stroke-width="0.55" stroke-dasharray="1.5 2.3"/>
<line x1="328.5" x2="328.5" y1="271.5" y2="496" stroke="#8a8a8a" stroke-width="0.55" stroke-dasharray="1.5 2.3"/>
<path d="M32.70 271.50 L32.70 487.50 Q32.70 489.00 34.20 489.00 L46.00 489.00 Q47.50 489.00 47.50 487.50 L47.50 409.35 Q47.50 408.50 48.35 408.50 L48.35 408.50 Q49.20 408.50 49.20 409.35 L49.20 487.50 Q49.20 489.00 50.70 489.00 L53.50 489.00 Q55.00 489.00 55.00 487.50 L55.00 321.70" fill="none" stroke="#666" stroke-width="1.4"/>
<path d="M64.10 321.70 L64.10 356.40" fill="none" stroke="#666" stroke-width="1.4"/>
<path d="M65.30 321.70 L65.30 356.40" fill="none" stroke="#666" stroke-width="1.4"/>
<path d="M66.40 321.70 L66.40 356.40" fill="none" stroke="#666" stroke-width="1.4"/>
<path d="M58.50 271.50 L58.50 304.50 Q58.50 306.50 60.50 306.50 L68.20 306.50 Q70.20 306.50 70.20 308.50 L70.20 487.10 Q70.20 489.00 72.10 489.00 L72.10 489.00 Q74.00 489.00 74.00 487.10 L74.00 405.80 Q74.00 404.00 75.80 404.00 L75.80 404.00 Q77.60 404.00 77.60 402.20 L77.60 359.30 Q77.60 358.10 78.80 358.10 L80.00 358.10" fill="none" stroke="#666" stroke-width="1.4"/>
<path d="M78.70 271.50 L78.70 353.55 Q78.70 355.20 80.35 355.20 L82.00 355.20" fill="none" stroke="#666" stroke-width="1.4"/>
<path d="M77.60 358.00 L77.60 309.00 Q77.60 306.50 80.10 306.50 L107.70 306.50 Q110.20 306.50 110.20 309.00 L110.20 484.50 Q110.20 487.00 112.70 487.00 L158.00 487.00" fill="none" stroke="#666" stroke-width="1.4"/>
<path d="M160.90 484.50 L160.90 309.50 Q160.90 307.00 163.40 307.00 L170.00 307.00" fill="none" stroke="#666" stroke-width="1.4"/>
<path d="M98.40 271.50 L98.40 293.70 Q98.40 296.20 100.90 296.20 L103.30 296.20 Q105.80 296.20 105.80 298.70 L105.80 487.00" fill="none" stroke="#666" stroke-width="1.4"/>
<path d="M111.40 321.70 L111.40 487.00" fill="none" stroke="#666" stroke-width="1.4"/>
<line x1="54.5" x2="78.1" y1="356.4" y2="356.4" stroke="#666" stroke-width="1.4"/>
<line x1="77.1" x2="93.9" y1="355.2" y2="355.2" stroke="#666" stroke-width="1.4"/>
<line x1="77.1" x2="93.9" y1="358.1" y2="358.1" stroke="#666" stroke-width="1.4"/>
<line x1="92.9" x2="125.2" y1="352.0" y2="352.0" stroke="#666" stroke-width="1.4"/>
<line x1="92.9" x2="125.2" y1="355.2" y2="355.2" stroke="#666" stroke-width="1.4"/>
<line x1="92.9" x2="125.2" y1="358.1" y2="358.1" stroke="#666" stroke-width="1.4"/>
<line x1="92.9" x2="125.2" y1="360.3" y2="360.3" stroke="#666" stroke-width="1.4"/>
<line x1="124.2" x2="132.3" y1="350.8" y2="350.8" stroke="#666" stroke-width="1.4"/>
<line x1="124.2" x2="132.3" y1="353.5" y2="353.5" stroke="#dd2626" stroke-width="1.4"/>
<line x1="124.2" x2="132.3" y1="355.9" y2="355.9" stroke="#666" stroke-width="1.4"/>
<line x1="124.2" x2="132.3" y1="358.3" y2="358.3" stroke="#666" stroke-width="1.4"/>
<line x1="124.2" x2="132.3" y1="361.0" y2="361.0" stroke="#666" stroke-width="1.4"/>
<line x1="124.2" x2="132.3" y1="363.0" y2="363.0" stroke="#666" stroke-width="1.4"/>
<line x1="131.3" x2="139.8" y1="348.8" y2="348.8" stroke="#666" stroke-width="1.4"/>
<line x1="131.3" x2="139.8" y1="352.2" y2="352.2" stroke="#dd2626" stroke-width="1.4"/>
<line x1="131.3" x2="139.8" y1="354.4" y2="354.4" stroke="#666" stroke-width="1.4"/>
<line x1="131.3" x2="139.8" y1="357.0" y2="357.0" stroke="#666" stroke-width="1.4"/>
<line x1="131.3" x2="139.8" y1="360.0" y2="360.0" stroke="#666" stroke-width="1.4"/>
<line x1="131.3" x2="139.8" y1="363.2" y2="363.2" stroke="#666" stroke-width="1.4"/>
<line x1="138.8" x2="148.0" y1="347.5" y2="347.5" stroke="#666" stroke-width="1.4"/>
<line x1="138.8" x2="148.0" y1="350.2" y2="350.2" stroke="#dd2626" stroke-width="1.4"/>
<line x1="138.8" x2="148.0" y1="352.8" y2="352.8" stroke="#dd2626" stroke-width="1.4"/>
<line x1="138.8" x2="148.0" y1="355.3" y2="355.3" stroke="#666" stroke-width="1.4"/>
<line x1="138.8" x2="148.0" y1="357.8" y2="357.8" stroke="#666" stroke-width="1.4"/>
<line x1="138.8" x2="148.0" y1="360.3" y2="360.3" stroke="#666" stroke-width="1.4"/>
<line x1="138.8" x2="148.0" y1="362.8" y2="362.8" stroke="#666" stroke-width="1.4"/>
<line x1="138.8" x2="148.0" y1="365.3" y2="365.3" stroke="#666" stroke-width="1.4"/>
<line x1="147.0" x2="166.6" y1="346.1" y2="346.1" stroke="#dd2626" stroke-width="1.4"/>
<line x1="147.0" x2="166.6" y1="349.1" y2="349.1" stroke="#dd2626" stroke-width="1.4"/>
<line x1="147.0" x2="166.6" y1="352.1" y2="352.1" stroke="#dd2626" stroke-width="1.4"/>
<line x1="147.0" x2="166.6" y1="355.1" y2="355.1" stroke="#dd2626" stroke-width="1.4"/>
<line x1="147.0" x2="166.6" y1="358.1" y2="358.1" stroke="#dd2626" stroke-width="1.4"/>
<line x1="147.0" x2="166.6" y1="361.1" y2="361.1" stroke="#dd2626" stroke-width="1.4"/>
<line x1="147.0" x2="166.6" y1="364.1" y2="364.1" stroke="#dd2626" stroke-width="1.4"/>
<line x1="147.0" x2="166.6" y1="366.4" y2="366.4" stroke="#666" stroke-width="1.4"/>
<line x1="165.6" x2="181.5" y1="348.1" y2="348.1" stroke="#dd2626" stroke-width="1.4"/>
<line x1="165.6" x2="181.5" y1="351.0" y2="351.0" stroke="#dd2626" stroke-width="1.4"/>
<line x1="165.6" x2="181.5" y1="354.0" y2="354.0" stroke="#dd2626" stroke-width="1.4"/>
<line x1="165.6" x2="181.5" y1="356.9" y2="356.9" stroke="#dd2626" stroke-width="1.4"/>
<line x1="165.6" x2="181.5" y1="359.8" y2="359.8" stroke="#dd2626" stroke-width="1.4"/>
<line x1="165.6" x2="181.5" y1="362.7" y2="362.7" stroke="#dd2626" stroke-width="1.4"/>
<line x1="180.5" x2="189.0" y1="350.3" y2="350.3" stroke="#dd2626" stroke-width="1.4"/>
<line x1="180.5" x2="189.0" y1="352.6" y2="352.6" stroke="#dd2626" stroke-width="1.4"/>
<line x1="180.5" x2="189.0" y1="355.3" y2="355.3" stroke="#dd2626" stroke-width="1.4"/>
<line x1="180.5" x2="189.0" y1="357.6" y2="357.6" stroke="#dd2626" stroke-width="1.4"/>
<line x1="180.5" x2="189.0" y1="360.4" y2="360.4" stroke="#dd2626" stroke-width="1.4"/>
<line x1="189.0" x2="239.5" y1="353.0" y2="353.0" stroke="#dd2626" stroke-width="1.4"/>
<line x1="189.0" x2="239.5" y1="355.0" y2="355.0" stroke="#dd2626" stroke-width="1.4"/>
<line x1="189.0" x2="239.5" y1="357.0" y2="357.0" stroke="#dd2626" stroke-width="1.4"/>
<line x1="147" x2="154.5" y1="346.1" y2="346.1" stroke="#666" stroke-width="1.4"/>
<line x1="147" x2="150.5" y1="355.1" y2="355.1" stroke="#666" stroke-width="1.4"/>
<line x1="147" x2="150.0" y1="358.1" y2="358.1" stroke="#666" stroke-width="1.4"/>
<line x1="147" x2="151.0" y1="364.1" y2="364.1" stroke="#666" stroke-width="1.4"/>
<line x1="111.5" x2="124.7" y1="355.2" y2="355.2" stroke="#dd2626" stroke-width="1.4"/>
<path d="M93.40 271.50 L93.40 359.70" fill="none" stroke="#666" stroke-width="1.4"/>
<path d="M124.70 271.50 L124.70 362.70" fill="none" stroke="#666" stroke-width="1.4"/>
<path d="M131.80 271.50 L131.80 363.70" fill="none" stroke="#666" stroke-width="1.4"/>
<path d="M138.80 271.50 L138.80 365.70" fill="none" stroke="#666" stroke-width="1.4"/>
<path d="M139.80 321.70 L139.80 365.70" fill="none" stroke="#666" stroke-width="1.4"/>
<path d="M144.30 271.50 L144.30 367.00" fill="none" stroke="#666" stroke-width="1.4"/>
<path d="M145.50 321.70 L145.50 367.00" fill="none" stroke="#666" stroke-width="1.4"/>
<path d="M146.70 321.70 L146.70 367.00" fill="none" stroke="#666" stroke-width="1.4"/>
<path d="M20 306.8H24.3C28.9 306.8 28.9 309 28.9 317" fill="none" stroke="#dd2626" stroke-width="1.4"/>
<path d="M28.90 316.00 L28.90 483.90 Q28.90 486.40 31.40 486.40 L93.50 486.40 Q96.00 486.40 96.00 483.90 L96.00 407.20 Q96.00 404.70 98.50 404.70 L168.00 404.70 Q170.50 404.70 170.50 402.20 L170.50 271.50" fill="none" stroke="#dd2626" stroke-width="1.4"/>
<path d="M98.30 320.70 L98.30 360.00" fill="none" stroke="#666" stroke-width="1.4"/>
<path d="M98.30 360.00 L98.30 404.70" fill="none" stroke="#dd2626" stroke-width="1.4"/>
<circle cx="98.3" cy="321" r="0.7" fill="#dd2626"/>
<path d="M159.20 321.50 L159.20 487.20 Q159.20 489.70 161.70 489.70 L331.00 489.70" fill="none" stroke="#dd2626" stroke-width="1.4"/>
<path d="M160.9 484.5Q160.9 487.2 163.5 487.2H331" fill="none" stroke="#dd2626" stroke-width="1.4"/>
<path d="M167.10 271.50 L167.10 348.10" fill="none" stroke="#dd2626" stroke-width="1.4"/>
<path d="M181.60 271.50 L181.60 350.30" fill="none" stroke="#dd2626" stroke-width="1.4"/>
<path d="M188.10 271.50 L188.10 353.00" fill="none" stroke="#dd2626" stroke-width="1.4"/>
<path d="M193.20 271.50 L193.20 353.00" fill="none" stroke="#dd2626" stroke-width="1.4"/>
<path d="M215.20 271.50 L215.20 353.00" fill="none" stroke="#dd2626" stroke-width="1.4"/>
<path d="M235.70 271.50 L235.70 353.00" fill="none" stroke="#dd2626" stroke-width="1.4"/>
<path d="M189.65 493.4V358.8Q189.65 357.4 190.90 357.4Q192.15 357.4 192.15 358.8V493.4" fill="none" stroke="#dd2626" stroke-width="1.3"/>
<path d="M194.65 493.4V358.8Q194.65 357.4 195.30 357.4Q195.95 357.4 195.95 358.8V493.4" fill="none" stroke="#dd2626" stroke-width="1.3"/>
<path d="M198.35 493.4V358.8Q198.35 357.4 199.05 357.4Q199.75 357.4 199.75 358.8V493.4" fill="none" stroke="#dd2626" stroke-width="1.3"/>
<path d="M202.05 493.4V358.8Q202.05 357.4 202.70 357.4Q203.35 357.4 203.35 358.8V493.4" fill="none" stroke="#dd2626" stroke-width="1.3"/>
<path d="M205.65 493.4V358.8Q205.65 357.4 206.20 357.4Q206.75 357.4 206.75 358.8V493.4" fill="none" stroke="#dd2626" stroke-width="1.3"/>
<path d="M212.15 493.4V358.8Q212.15 357.4 213.35 357.4Q214.55 357.4 214.55 358.8V493.4" fill="none" stroke="#dd2626" stroke-width="1.3"/>
<path d="M219.45 493.4V358.8Q219.45 357.4 220.70 357.4Q221.95 357.4 221.95 358.8V493.4" fill="none" stroke="#dd2626" stroke-width="1.3"/>
<path d="M224.45 493.4V358.8Q224.45 357.4 225.20 357.4Q225.95 357.4 225.95 358.8V493.4" fill="none" stroke="#dd2626" stroke-width="1.3"/>
<path d="M231.45 493.4V358.8Q231.45 357.4 232.70 357.4Q233.95 357.4 233.95 358.8V493.4" fill="none" stroke="#dd2626" stroke-width="1.3"/>
<path d="M237.5 358.6H239.6Q240.6 358.6 240.6 360V468C240.6 490 242 492.5 254 492.5H312C320 492.5 321.6 490 321.6 478V406.5Q321.6 404.6 323 404.6Q324.2 404.6 324.2 402V290C324.2 276 325 273 326.3 271.3" fill="none" stroke="#dd2626" stroke-width="1.4"/>
<rect x="20" y="264.2" width="311" height="7.3" fill="#c9c9c9"/>
<rect x="20" y="484.1" width="311" height="11.8" fill="#c4c4c4" fill-opacity="0.45"/>
<line x1="20" x2="331" y1="496.1" y2="496.1" stroke="#9a9a9a" stroke-width="0.6"/>
<text transform="translate(29.2 500.2) scale(1 1.15)" font-size="4" text-anchor="middle" fill="#000">July</text>
<text transform="translate(79 500.2) scale(1 1.15)" font-size="4" text-anchor="middle" fill="#000">October</text>
<text transform="translate(129.3 500.2) scale(1 1.15)" font-size="4" text-anchor="middle" fill="#000">2012</text>
<text transform="translate(178.7 500.2) scale(1 1.15)" font-size="4" text-anchor="middle" fill="#000">April</text>
<text transform="translate(228.4 500.2) scale(1 1.15)" font-size="4" text-anchor="middle" fill="#000">July</text>
<text transform="translate(278.5 500.2) scale(1 1.15)" font-size="4" text-anchor="middle" fill="#000">October</text>
<text transform="translate(328.5 500.2) scale(1 1.15)" font-size="4" text-anchor="middle" fill="#000">201.</text>
</svg>
<svg style="position:absolute;left:344px;top:253px" width="340" height="251" viewBox="344 253 340 251">
<rect x="402" y="305.4" width="111.00" height="19.00" fill="#b6b6b6"/>
<rect x="513" y="305.4" width="18.10" height="19.00" fill="#e1868b"/>
<rect x="512.5" y="310.40" width="2.50" height="14.00" fill="#d63a40" fill-opacity="0.6"/>
<rect x="516.2" y="310.40" width="2.50" height="14.00" fill="#d63a40" fill-opacity="0.6"/>
<rect x="520" y="310.40" width="2.40" height="14.00" fill="#d63a40" fill-opacity="0.6"/>
<rect x="525" y="310.40" width="4.80" height="14.00" fill="#d63a40" fill-opacity="0.6"/>
<rect x="362.7" y="324.4" width="195.70" height="19.20" fill="#e1868b"/>
<rect x="367" y="329.40" width="3.00" height="14.20" fill="#d63a40" fill-opacity="0.6"/>
<rect x="440.5" y="329.40" width="3.20" height="14.20" fill="#d63a40" fill-opacity="0.6"/>
<rect x="376" y="343.6" width="117.60" height="18.90" fill="#b6b6b6"/>
<rect x="493.6" y="343.6" width="175.20" height="18.90" fill="#e1868b"/>
<rect x="493.6" y="348.60" width="2.90" height="13.90" fill="#d63a40" fill-opacity="0.6"/>
<rect x="497.5" y="348.60" width="2.50" height="13.90" fill="#d63a40" fill-opacity="0.6"/>
<rect x="501" y="348.60" width="2.50" height="13.90" fill="#d63a40" fill-opacity="0.6"/>
<rect x="504.5" y="348.60" width="2.80" height="13.90" fill="#d63a40" fill-opacity="0.6"/>
<rect x="665.8" y="348.60" width="2.00" height="13.90" fill="#d63a40" fill-opacity="0.6"/>
<rect x="422.5" y="362.5" width="75.50" height="18.90" fill="#b6b6b6"/>
<rect x="498" y="362.5" width="176.50" height="18.90" fill="#e1868b"/>
<rect x="497" y="367.50" width="2.60" height="13.90" fill="#d63a40" fill-opacity="0.6"/>
<rect x="505.6" y="367.50" width="2.40" height="13.90" fill="#d63a40" fill-opacity="0.6"/>
<rect x="436.4" y="381.4" width="16.60" height="19.40" fill="#b6b6b6"/>
<rect x="453" y="381.4" width="221.50" height="19.40" fill="#e1868b"/>
<rect x="453" y="386.40" width="2.00" height="14.40" fill="#d63a40" fill-opacity="0.6"/>
<rect x="460" y="386.40" width="2.70" height="14.40" fill="#d63a40" fill-opacity="0.6"/>
<rect x="468.8" y="386.40" width="2.10" height="14.40" fill="#d63a40" fill-opacity="0.6"/>
<rect x="482" y="386.40" width="1.70" height="14.40" fill="#d63a40" fill-opacity="0.6"/>
<rect x="491.5" y="386.40" width="1.80" height="14.40" fill="#d63a40" fill-opacity="0.6"/>
<rect x="494.2" y="386.40" width="1.80" height="14.40" fill="#d63a40" fill-opacity="0.6"/>
<rect x="497.7" y="386.40" width="1.70" height="14.40" fill="#d63a40" fill-opacity="0.6"/>
<rect x="501.2" y="386.40" width="1.80" height="14.40" fill="#d63a40" fill-opacity="0.6"/>
<rect x="441.6" y="400.8" width="42.10" height="19.20" fill="#b6b6b6"/>
<rect x="483.7" y="400.8" width="31.50" height="19.20" fill="#e1868b"/>
<rect x="483.7" y="405.80" width="1.70" height="14.20" fill="#d63a40" fill-opacity="0.6"/>
<rect x="495" y="405.80" width="1.80" height="14.20" fill="#d63a40" fill-opacity="0.6"/>
<rect x="498.6" y="405.80" width="1.70" height="14.20" fill="#d63a40" fill-opacity="0.6"/>
<rect x="502" y="405.80" width="1.80" height="14.20" fill="#d63a40" fill-opacity="0.6"/>
<rect x="506.4" y="405.80" width="1.80" height="14.20" fill="#d63a40" fill-opacity="0.6"/>
<rect x="510.8" y="405.80" width="2.60" height="14.20" fill="#d63a40" fill-opacity="0.6"/>
<rect x="467.6" y="420" width="26.60" height="19.10" fill="#b6b6b6"/>
<rect x="494.2" y="420" width="16.60" height="19.10" fill="#e1868b"/>
<rect x="494.2" y="425.00" width="2.60" height="14.10" fill="#d63a40" fill-opacity="0.6"/>
<rect x="498.6" y="425.00" width="1.70" height="14.10" fill="#d63a40" fill-opacity="0.6"/>
<rect x="502" y="425.00" width="1.00" height="14.10" fill="#d63a40" fill-opacity="0.6"/>
<rect x="505.5" y="425.00" width="1.80" height="14.10" fill="#d63a40" fill-opacity="0.6"/>
<rect x="475.2" y="439.1" width="14.30" height="18.90" fill="#b6b6b6"/>
<rect x="489.5" y="439.1" width="35.90" height="18.90" fill="#e1868b"/>
<rect x="489.5" y="444.10" width="1.80" height="13.90" fill="#d63a40" fill-opacity="0.6"/>
<rect x="493" y="444.10" width="1.00" height="13.90" fill="#d63a40" fill-opacity="0.6"/>
<rect x="500.9" y="444.10" width="1.80" height="13.90" fill="#d63a40" fill-opacity="0.6"/>
<rect x="504.9" y="444.10" width="2.10" height="13.90" fill="#d63a40" fill-opacity="0.6"/>
<rect x="509.7" y="444.10" width="1.70" height="13.90" fill="#d63a40" fill-opacity="0.6"/>
<rect x="514" y="444.10" width="1.80" height="13.90" fill="#d63a40" fill-opacity="0.6"/>
<rect x="524.5" y="444.10" width="1.80" height="13.90" fill="#d63a40" fill-opacity="0.6"/>
<rect x="526.3" y="444.10" width="3.80" height="13.90" fill="#d63a40" fill-opacity="0.6"/>
<rect x="481.6" y="458" width="11.40" height="19.20" fill="#b6b6b6"/>
<rect x="493" y="458" width="45.20" height="19.20" fill="#e1868b"/>
<rect x="493" y="463.00" width="2.00" height="14.20" fill="#d63a40" fill-opacity="0.6"/>
<rect x="497" y="463.00" width="2.00" height="14.20" fill="#d63a40" fill-opacity="0.6"/>
<rect x="501" y="463.00" width="2.00" height="14.20" fill="#d63a40" fill-opacity="0.6"/>
<rect x="505" y="463.00" width="2.50" height="14.20" fill="#d63a40" fill-opacity="0.6"/>
<rect x="509" y="463.00" width="1.50" height="14.20" fill="#d63a40" fill-opacity="0.6"/>
<rect x="513" y="463.00" width="1.50" height="14.20" fill="#d63a40" fill-opacity="0.6"/>
<rect x="516.5" y="463.00" width="2.00" height="14.20" fill="#d63a40" fill-opacity="0.6"/>
<rect x="521" y="463.00" width="2.00" height="14.20" fill="#d63a40" fill-opacity="0.6"/>
<rect x="525" y="463.00" width="2.50" height="14.20" fill="#d63a40" fill-opacity="0.6"/>
<rect x="531" y="463.00" width="2.00" height="14.20" fill="#d63a40" fill-opacity="0.6"/>
<rect x="535" y="463.00" width="2.00" height="14.20" fill="#d63a40" fill-opacity="0.6"/>
<rect x="486.9" y="477.2" width="14.40" height="19.10" fill="#b6b6b6"/>
<rect x="501.3" y="477.2" width="77.50" height="19.10" fill="#e1868b"/>
<rect x="501.8" y="482.20" width="1.70" height="14.10" fill="#d63a40" fill-opacity="0.6"/>
<rect x="508.8" y="482.20" width="2.10" height="14.10" fill="#d63a40" fill-opacity="0.6"/>
<rect x="512.3" y="482.20" width="1.70" height="14.10" fill="#d63a40" fill-opacity="0.6"/>
<rect x="515.8" y="482.20" width="1.70" height="14.10" fill="#d63a40" fill-opacity="0.6"/>
<line x1="372.5" x2="372.5" y1="273" y2="496" stroke="#808080" stroke-width="0.55" stroke-dasharray="1.4 2.5"/>
<line x1="422.5" x2="422.5" y1="273" y2="496" stroke="#808080" stroke-width="0.55" stroke-dasharray="1.4 2.5"/>
<line x1="472.3" x2="472.3" y1="273" y2="496" stroke="#808080" stroke-width="0.55" stroke-dasharray="1.4 2.5"/>
<line x1="522" x2="522" y1="273" y2="496" stroke="#808080" stroke-width="0.55" stroke-dasharray="1.4 2.5"/>
<line x1="571.6" x2="571.6" y1="273" y2="496" stroke="#808080" stroke-width="0.55" stroke-dasharray="1.4 2.5"/>
<line x1="621.5" x2="621.5" y1="273" y2="496" stroke="#808080" stroke-width="0.55" stroke-dasharray="1.4 2.5"/>
<line x1="671.7" x2="671.7" y1="273" y2="496" stroke="#808080" stroke-width="0.55" stroke-dasharray="1.4 2.5"/>
<line x1="362.7" x2="674.7" y1="305.4" y2="305.4" stroke="#757575" stroke-width="0.85"/>
<line x1="362.7" x2="674.7" y1="324.4" y2="324.4" stroke="#757575" stroke-width="0.85"/>
<line x1="362.7" x2="674.7" y1="343.6" y2="343.6" stroke="#757575" stroke-width="0.85"/>
<line x1="362.7" x2="674.7" y1="362.5" y2="362.5" stroke="#757575" stroke-width="0.85"/>
<line x1="362.7" x2="674.7" y1="381.4" y2="381.4" stroke="#757575" stroke-width="0.85"/>
<line x1="362.7" x2="674.7" y1="400.8" y2="400.8" stroke="#757575" stroke-width="0.85"/>
<line x1="362.7" x2="674.7" y1="420" y2="420" stroke="#757575" stroke-width="0.85"/>
<line x1="362.7" x2="674.7" y1="439.1" y2="439.1" stroke="#757575" stroke-width="0.85"/>
<line x1="362.7" x2="674.7" y1="458" y2="458" stroke="#757575" stroke-width="0.85"/>
<line x1="362.7" x2="674.7" y1="477.2" y2="477.2" stroke="#757575" stroke-width="0.85"/>
<line x1="362.7" x2="674.7" y1="496.3" y2="496.3" stroke="#666" stroke-width="0.8"/>
<rect x="402" y="317.00" width="12.00" height="2" fill="#fff" stroke="#444" stroke-width="0.45"/>
<path d="M402.30 316.40V320.20M413.70 316.40V320.20" stroke="#333" stroke-width="0.5"/>
<rect x="417" y="316.00" width="4.30" height="2" fill="#fff" stroke="#444" stroke-width="0.45"/>
<path d="M417.30 315.40V319.20M421.00 315.40V319.20" stroke="#333" stroke-width="0.5"/>
<rect x="421.3" y="317.00" width="32.50" height="2" fill="#fff" stroke="#444" stroke-width="0.45"/>
<path d="M421.60 316.40V320.20M453.50 316.40V320.20" stroke="#333" stroke-width="0.5"/>
<rect x="504.4" y="317.00" width="9.60" height="2" fill="#fff" stroke="#444" stroke-width="0.45"/>
<path d="M504.70 316.40V320.20M513.70 316.40V320.20" stroke="#333" stroke-width="0.5"/>
<rect x="514" y="317.00" width="18.30" height="2" fill="#fff" stroke="#444" stroke-width="0.45"/>
<path d="M514.30 316.40V320.20M532.00 316.40V320.20" stroke="#333" stroke-width="0.5"/>
<circle cx="402" cy="309.20" r="1.35" fill="#fff" stroke="#333" stroke-width="0.5"/>
<circle cx="409.2" cy="309.20" r="1.35" fill="#fff" stroke="#333" stroke-width="0.5"/>
<circle cx="417.2" cy="309.20" r="1.35" fill="#fff" stroke="#333" stroke-width="0.5"/>
<circle cx="423.7" cy="309.20" r="1.35" fill="#fff" stroke="#333" stroke-width="0.5"/>
<circle cx="426.1" cy="309.20" r="1.35" fill="#fff" stroke="#333" stroke-width="0.5"/>
<circle cx="433.3" cy="309.20" r="1.35" fill="#fff" stroke="#333" stroke-width="0.5"/>
<circle cx="436.9" cy="309.20" r="1.35" fill="#fff" stroke="#333" stroke-width="0.5"/>
<circle cx="447.8" cy="309.20" r="1.35" fill="#fff" stroke="#333" stroke-width="0.5"/>
<circle cx="459.8" cy="309.20" r="1.35" fill="#fff" stroke="#333" stroke-width="0.5"/>
<circle cx="502" cy="309.20" r="1.35" fill="#fff" stroke="#333" stroke-width="0.5"/>
<circle cx="504.9" cy="309.20" r="1.35" fill="#fff" stroke="#333" stroke-width="0.5"/>
<circle cx="508" cy="309.20" r="1.35" fill="#fff" stroke="#333" stroke-width="0.5"/>
<circle cx="511.1" cy="309.20" r="1.35" fill="#fff" stroke="#333" stroke-width="0.5"/>
<circle cx="534.1" cy="309.20" r="1.35" fill="#fff" stroke="#333" stroke-width="0.5"/>
<rect x="363" y="336.00" width="9.30" height="2" fill="#fff" stroke="#444" stroke-width="0.45"/>
<path d="M363.30 335.40V339.20M372.00 335.40V339.20" stroke="#333" stroke-width="0.5"/>
<rect x="441.7" y="336.00" width="72.30" height="2" fill="#fff" stroke="#444" stroke-width="0.45"/>
<path d="M442.00 335.40V339.20M513.70 335.40V339.20" stroke="#333" stroke-width="0.5"/>
<rect x="515" y="337.00" width="39.70" height="2" fill="#fff" stroke="#444" stroke-width="0.45"/>
<path d="M515.30 336.40V340.20M554.40 336.40V340.20" stroke="#333" stroke-width="0.5"/>
<circle cx="364" cy="328.20" r="1.35" fill="#fff" stroke="#333" stroke-width="0.5"/>
<circle cx="366.5" cy="328.20" r="1.35" fill="#fff" stroke="#333" stroke-width="0.5"/>
<circle cx="369" cy="328.20" r="1.35" fill="#fff" stroke="#333" stroke-width="0.5"/>
<circle cx="371.5" cy="328.20" r="1.35" fill="#fff" stroke="#333" stroke-width="0.5"/>
<circle cx="439.3" cy="328.20" r="1.35" fill="#fff" stroke="#333" stroke-width="0.5"/>
<circle cx="441.7" cy="328.20" r="1.35" fill="#fff" stroke="#333" stroke-width="0.5"/>
<circle cx="447.8" cy="328.20" r="1.35" fill="#fff" stroke="#333" stroke-width="0.5"/>
<circle cx="459.1" cy="328.20" r="1.35" fill="#fff" stroke="#333" stroke-width="0.5"/>
<circle cx="473.1" cy="328.20" r="1.35" fill="#fff" stroke="#333" stroke-width="0.5"/>
<circle cx="487.5" cy="328.20" r="1.35" fill="#fff" stroke="#333" stroke-width="0.5"/>
<circle cx="490" cy="328.20" r="1.35" fill="#fff" stroke="#333" stroke-width="0.5"/>
<circle cx="498.4" cy="328.20" r="1.35" fill="#fff" stroke="#333" stroke-width="0.5"/>
<circle cx="500.8" cy="328.20" r="1.35" fill="#fff" stroke="#333" stroke-width="0.5"/>
<circle cx="503.2" cy="328.20" r="1.35" fill="#fff" stroke="#333" stroke-width="0.5"/>
<circle cx="505.6" cy="328.20" r="1.35" fill="#fff" stroke="#333" stroke-width="0.5"/>
<circle cx="508" cy="328.20" r="1.35" fill="#fff" stroke="#333" stroke-width="0.5"/>
<circle cx="512.8" cy="328.20" r="1.35" fill="#fff" stroke="#333" stroke-width="0.5"/>
<circle cx="515.2" cy="328.20" r="1.35" fill="#fff" stroke="#333" stroke-width="0.5"/>
<circle cx="532.3" cy="328.20" r="1.35" fill="#fff" stroke="#333" stroke-width="0.5"/>
<circle cx="539.8" cy="328.20" r="1.35" fill="#fff" stroke="#333" stroke-width="0.5"/>
<circle cx="553.4" cy="328.20" r="1.35" fill="#fff" stroke="#333" stroke-width="0.5"/>
<rect x="376.2" y="355.20" width="1.80" height="2" fill="#fff" stroke="#444" stroke-width="0.45"/>
<path d="M376.50 354.60V358.40M377.70 354.60V358.40" stroke="#333" stroke-width="0.5"/>
<rect x="390.7" y="354.20" width="4.10" height="2" fill="#fff" stroke="#444" stroke-width="0.45"/>
<path d="M391.00 353.60V357.40M394.50 353.60V357.40" stroke="#333" stroke-width="0.5"/>
<rect x="398.4" y="354.20" width="24.10" height="2" fill="#fff" stroke="#444" stroke-width="0.45"/>
<path d="M398.70 353.60V357.40M422.20 353.60V357.40" stroke="#333" stroke-width="0.5"/>
<rect x="422.5" y="355.20" width="83.10" height="2" fill="#fff" stroke="#444" stroke-width="0.45"/>
<path d="M422.80 354.60V358.40M505.30 354.60V358.40" stroke="#333" stroke-width="0.5"/>
<circle cx="376.2" cy="347.40" r="1.35" fill="#fff" stroke="#333" stroke-width="0.5"/>
<circle cx="390.7" cy="347.40" r="1.35" fill="#fff" stroke="#333" stroke-width="0.5"/>
<circle cx="391.6" cy="347.40" r="1.35" fill="#fff" stroke="#333" stroke-width="0.5"/>
<circle cx="399.1" cy="347.40" r="1.35" fill="#fff" stroke="#333" stroke-width="0.5"/>
<circle cx="400.8" cy="347.40" r="1.35" fill="#fff" stroke="#333" stroke-width="0.5"/>
<circle cx="402.5" cy="347.40" r="1.35" fill="#fff" stroke="#333" stroke-width="0.5"/>
<circle cx="406.3" cy="347.40" r="1.35" fill="#fff" stroke="#333" stroke-width="0.5"/>
<circle cx="408" cy="347.40" r="1.35" fill="#fff" stroke="#333" stroke-width="0.5"/>
<circle cx="409.9" cy="347.40" r="1.35" fill="#fff" stroke="#333" stroke-width="0.5"/>
<circle cx="413.6" cy="347.40" r="1.35" fill="#fff" stroke="#333" stroke-width="0.5"/>
<circle cx="415.2" cy="347.40" r="1.35" fill="#fff" stroke="#333" stroke-width="0.5"/>
<circle cx="417.2" cy="347.40" r="1.35" fill="#fff" stroke="#333" stroke-width="0.5"/>
<circle cx="418.9" cy="347.40" r="1.35" fill="#fff" stroke="#333" stroke-width="0.5"/>
<circle cx="420.5" cy="347.40" r="1.35" fill="#fff" stroke="#333" stroke-width="0.5"/>
<circle cx="433.3" cy="347.40" r="1.35" fill="#fff" stroke="#333" stroke-width="0.5"/>
<circle cx="435.7" cy="347.40" r="1.35" fill="#fff" stroke="#333" stroke-width="0.5"/>
<circle cx="438.1" cy="347.40" r="1.35" fill="#fff" stroke="#333" stroke-width="0.5"/>
<circle cx="441.3" cy="347.40" r="1.35" fill="#fff" stroke="#333" stroke-width="0.5"/>
<circle cx="453.8" cy="347.40" r="1.35" fill="#fff" stroke="#333" stroke-width="0.5"/>
<circle cx="456.2" cy="347.40" r="1.35" fill="#fff" stroke="#333" stroke-width="0.5"/>
<circle cx="459.8" cy="347.40" r="1.35" fill="#fff" stroke="#333" stroke-width="0.5"/>
<circle cx="475.5" cy="347.40" r="1.35" fill="#fff" stroke="#333" stroke-width="0.5"/>
<circle cx="477.9" cy="347.40" r="1.35" fill="#fff" stroke="#333" stroke-width="0.5"/>
<circle cx="480.3" cy="347.40" r="1.35" fill="#fff" stroke="#333" stroke-width="0.5"/>
<circle cx="483.2" cy="347.40" r="1.35" fill="#fff" stroke="#333" stroke-width="0.5"/>
<circle cx="490" cy="347.40" r="1.35" fill="#fff" stroke="#333" stroke-width="0.5"/>
<circle cx="665.5" cy="347.40" r="1.35" fill="#fff" stroke="#333" stroke-width="0.5"/>
<circle cx="667.5" cy="347.40" r="1.35" fill="#fff" stroke="#333" stroke-width="0.5"/>
<rect x="422.5" y="374.10" width="102.40" height="2" fill="#fff" stroke="#444" stroke-width="0.45"/>
<path d="M422.80 373.50V377.30M524.60 373.50V377.30" stroke="#333" stroke-width="0.5"/>
<rect x="524.9" y="373.10" width="7.40" height="2" fill="#fff" stroke="#444" stroke-width="0.45"/>
<path d="M525.20 372.50V376.30M532.00 372.50V376.30" stroke="#333" stroke-width="0.5"/>
<rect x="532.3" y="372.60" width="22.40" height="2" fill="#fff" stroke="#444" stroke-width="0.45"/>
<path d="M532.60 372.00V375.80M554.40 372.00V375.80" stroke="#333" stroke-width="0.5"/>
<rect x="554.7" y="374.10" width="29.70" height="2" fill="#fff" stroke="#444" stroke-width="0.45"/>
<path d="M555.00 373.50V377.30M584.10 373.50V377.30" stroke="#333" stroke-width="0.5"/>
<circle cx="423.2" cy="366.30" r="1.35" fill="#fff" stroke="#333" stroke-width="0.5"/>
<circle cx="424.9" cy="366.30" r="1.35" fill="#fff" stroke="#333" stroke-width="0.5"/>
<circle cx="432.1" cy="366.30" r="1.35" fill="#fff" stroke="#333" stroke-width="0.5"/>
<circle cx="434.5" cy="366.30" r="1.35" fill="#fff" stroke="#333" stroke-width="0.5"/>
<circle cx="436.4" cy="366.30" r="1.35" fill="#fff" stroke="#333" stroke-width="0.5"/>
<circle cx="447.3" cy="366.30" r="1.35" fill="#fff" stroke="#333" stroke-width="0.5"/>
<circle cx="449.7" cy="366.30" r="1.35" fill="#fff" stroke="#333" stroke-width="0.5"/>
<circle cx="453.3" cy="366.30" r="1.35" fill="#fff" stroke="#333" stroke-width="0.5"/>
<circle cx="463.9" cy="366.30" r="1.35" fill="#fff" stroke="#333" stroke-width="0.5"/>
<circle cx="475.5" cy="366.30" r="1.35" fill="#fff" stroke="#333" stroke-width="0.5"/>
<circle cx="486.3" cy="366.30" r="1.35" fill="#fff" stroke="#333" stroke-width="0.5"/>
<circle cx="494.8" cy="366.30" r="1.35" fill="#fff" stroke="#333" stroke-width="0.5"/>
<circle cx="497.2" cy="366.30" r="1.35" fill="#fff" stroke="#333" stroke-width="0.5"/>
<circle cx="499.1" cy="366.30" r="1.35" fill="#fff" stroke="#333" stroke-width="0.5"/>
<circle cx="501.3" cy="366.30" r="1.35" fill="#fff" stroke="#333" stroke-width="0.5"/>
<circle cx="508.5" cy="366.30" r="1.35" fill="#fff" stroke="#333" stroke-width="0.5"/>
<circle cx="516.4" cy="366.30" r="1.35" fill="#fff" stroke="#333" stroke-width="0.5"/>
<circle cx="536" cy="366.30" r="1.35" fill="#fff" stroke="#333" stroke-width="0.5"/>
<circle cx="538" cy="366.30" r="1.35" fill="#fff" stroke="#333" stroke-width="0.5"/>
<circle cx="539.8" cy="366.30" r="1.35" fill="#fff" stroke="#333" stroke-width="0.5"/>
<circle cx="543" cy="366.30" r="1.35" fill="#fff" stroke="#333" stroke-width="0.5"/>
<circle cx="555.4" cy="366.30" r="1.35" fill="#fff" stroke="#333" stroke-width="0.5"/>
<circle cx="565.8" cy="366.30" r="1.35" fill="#fff" stroke="#333" stroke-width="0.5"/>
<circle cx="574.5" cy="366.30" r="1.35" fill="#fff" stroke="#333" stroke-width="0.5"/>
<rect x="436.4" y="392.00" width="16.60" height="2" fill="#fff" stroke="#444" stroke-width="0.45"/>
<path d="M436.70 391.40V395.20M452.70 391.40V395.20" stroke="#333" stroke-width="0.5"/>
<rect x="453" y="394.50" width="13.20" height="2" fill="#fff" stroke="#444" stroke-width="0.45"/>
<path d="M453.30 393.90V397.70M465.90 393.90V397.70" stroke="#333" stroke-width="0.5"/>
<rect x="466.2" y="392.00" width="35.80" height="2" fill="#fff" stroke="#444" stroke-width="0.45"/>
<path d="M466.50 391.40V395.20M501.70 391.40V395.20" stroke="#333" stroke-width="0.5"/>
<circle cx="436.4" cy="385.20" r="1.35" fill="#fff" stroke="#333" stroke-width="0.5"/>
<circle cx="438.1" cy="385.20" r="1.35" fill="#fff" stroke="#333" stroke-width="0.5"/>
<circle cx="439.9" cy="385.20" r="1.35" fill="#fff" stroke="#333" stroke-width="0.5"/>
<circle cx="442.5" cy="385.20" r="1.35" fill="#fff" stroke="#333" stroke-width="0.5"/>
<circle cx="453" cy="385.20" r="1.35" fill="#fff" stroke="#333" stroke-width="0.5"/>
<circle cx="455.1" cy="385.20" r="1.35" fill="#fff" stroke="#333" stroke-width="0.5"/>
<circle cx="457" cy="385.20" r="1.35" fill="#fff" stroke="#333" stroke-width="0.5"/>
<circle cx="459.1" cy="385.20" r="1.35" fill="#fff" stroke="#333" stroke-width="0.5"/>
<circle cx="461.8" cy="385.20" r="1.35" fill="#fff" stroke="#333" stroke-width="0.5"/>
<circle cx="463.2" cy="385.20" r="1.35" fill="#fff" stroke="#333" stroke-width="0.5"/>
<circle cx="468.8" cy="385.20" r="1.35" fill="#fff" stroke="#333" stroke-width="0.5"/>
<circle cx="470.2" cy="385.20" r="1.35" fill="#fff" stroke="#333" stroke-width="0.5"/>
<circle cx="474" cy="385.20" r="1.35" fill="#fff" stroke="#333" stroke-width="0.5"/>
<circle cx="478.4" cy="385.20" r="1.35" fill="#fff" stroke="#333" stroke-width="0.5"/>
<circle cx="483.7" cy="385.20" r="1.35" fill="#fff" stroke="#333" stroke-width="0.5"/>
<circle cx="490.3" cy="385.20" r="1.35" fill="#fff" stroke="#333" stroke-width="0.5"/>
<circle cx="498.6" cy="385.20" r="1.35" fill="#fff" stroke="#333" stroke-width="0.5"/>
<rect x="441.6" y="412.90" width="7.90" height="2" fill="#fff" stroke="#444" stroke-width="0.45"/>
<path d="M441.90 412.30V416.10M449.20 412.30V416.10" stroke="#333" stroke-width="0.5"/>
<rect x="454.4" y="412.90" width="4.70" height="2" fill="#fff" stroke="#444" stroke-width="0.45"/>
<path d="M454.70 412.30V416.10M458.80 412.30V416.10" stroke="#333" stroke-width="0.5"/>
<rect x="459.1" y="411.40" width="24.60" height="2" fill="#fff" stroke="#444" stroke-width="0.45"/>
<path d="M459.40 410.80V414.60M483.40 410.80V414.60" stroke="#333" stroke-width="0.5"/>
<rect x="483.7" y="413.90" width="6.10" height="2" fill="#fff" stroke="#444" stroke-width="0.45"/>
<path d="M484.00 413.30V417.10M489.50 413.30V417.10" stroke="#333" stroke-width="0.5"/>
<rect x="489.8" y="411.40" width="5.20" height="2" fill="#fff" stroke="#444" stroke-width="0.45"/>
<path d="M490.10 410.80V414.60M494.70 410.80V414.60" stroke="#333" stroke-width="0.5"/>
<rect x="495" y="413.90" width="15.80" height="2" fill="#fff" stroke="#444" stroke-width="0.45"/>
<path d="M495.30 413.30V417.10M510.50 413.30V417.10" stroke="#333" stroke-width="0.5"/>
<rect x="510.8" y="411.40" width="2.60" height="2" fill="#fff" stroke="#444" stroke-width="0.45"/>
<path d="M511.10 410.80V414.60M513.10 410.80V414.60" stroke="#333" stroke-width="0.5"/>
<circle cx="441.6" cy="404.60" r="1.35" fill="#fff" stroke="#333" stroke-width="0.5"/>
<circle cx="443" cy="404.60" r="1.35" fill="#fff" stroke="#333" stroke-width="0.5"/>
<circle cx="446" cy="404.60" r="1.35" fill="#fff" stroke="#333" stroke-width="0.5"/>
<circle cx="447.4" cy="404.60" r="1.35" fill="#fff" stroke="#333" stroke-width="0.5"/>
<circle cx="454.8" cy="404.60" r="1.35" fill="#fff" stroke="#333" stroke-width="0.5"/>
<circle cx="456.5" cy="404.60" r="1.35" fill="#fff" stroke="#333" stroke-width="0.5"/>
<circle cx="462.3" cy="404.60" r="1.35" fill="#fff" stroke="#333" stroke-width="0.5"/>
<circle cx="483.7" cy="404.60" r="1.35" fill="#fff" stroke="#333" stroke-width="0.5"/>
<circle cx="488.9" cy="404.60" r="1.35" fill="#fff" stroke="#333" stroke-width="0.5"/>
<circle cx="504.7" cy="404.60" r="1.35" fill="#fff" stroke="#333" stroke-width="0.5"/>
<rect x="468.8" y="432.10" width="21.00" height="2" fill="#fff" stroke="#444" stroke-width="0.45"/>
<path d="M469.10 431.50V435.30M489.50 431.50V435.30" stroke="#333" stroke-width="0.5"/>
<rect x="489.8" y="430.10" width="5.20" height="2" fill="#fff" stroke="#444" stroke-width="0.45"/>
<path d="M490.10 429.50V433.30M494.70 429.50V433.30" stroke="#333" stroke-width="0.5"/>
<rect x="495" y="432.10" width="7.00" height="2" fill="#fff" stroke="#444" stroke-width="0.45"/>
<path d="M495.30 431.50V435.30M501.70 431.50V435.30" stroke="#333" stroke-width="0.5"/>
<rect x="502" y="432.10" width="8.80" height="2" fill="#fff" stroke="#444" stroke-width="0.45"/>
<path d="M502.30 431.50V435.30M510.50 431.50V435.30" stroke="#333" stroke-width="0.5"/>
<circle cx="467.9" cy="423.80" r="1.35" fill="#fff" stroke="#333" stroke-width="0.5"/>
<circle cx="469.7" cy="423.80" r="1.35" fill="#fff" stroke="#333" stroke-width="0.5"/>
<circle cx="471.4" cy="423.80" r="1.35" fill="#fff" stroke="#333" stroke-width="0.5"/>
<circle cx="473.2" cy="423.80" r="1.35" fill="#fff" stroke="#333" stroke-width="0.5"/>
<circle cx="474.9" cy="423.80" r="1.35" fill="#fff" stroke="#333" stroke-width="0.5"/>
<circle cx="477.5" cy="423.80" r="1.35" fill="#fff" stroke="#333" stroke-width="0.5"/>
<circle cx="482.3" cy="423.80" r="1.35" fill="#fff" stroke="#333" stroke-width="0.5"/>
<circle cx="490.7" cy="423.80" r="1.35" fill="#fff" stroke="#333" stroke-width="0.5"/>
<circle cx="497.7" cy="423.80" r="1.35" fill="#fff" stroke="#333" stroke-width="0.5"/>
<circle cx="499.4" cy="423.80" r="1.35" fill="#fff" stroke="#333" stroke-width="0.5"/>
<circle cx="502.1" cy="423.80" r="1.35" fill="#fff" stroke="#333" stroke-width="0.5"/>
<circle cx="504.7" cy="423.80" r="1.35" fill="#fff" stroke="#333" stroke-width="0.5"/>
<circle cx="506.4" cy="423.80" r="1.35" fill="#fff" stroke="#333" stroke-width="0.5"/>
<circle cx="509.1" cy="423.80" r="1.35" fill="#fff" stroke="#333" stroke-width="0.5"/>
<rect x="475.2" y="449.70" width="14.30" height="2" fill="#fff" stroke="#444" stroke-width="0.45"/>
<path d="M475.50 449.10V452.90M489.20 449.10V452.90" stroke="#333" stroke-width="0.5"/>
<rect x="489.5" y="452.20" width="5.30" height="2" fill="#fff" stroke="#444" stroke-width="0.45"/>
<path d="M489.80 451.60V455.40M494.50 451.60V455.40" stroke="#333" stroke-width="0.5"/>
<rect x="494.8" y="449.70" width="15.40" height="2" fill="#fff" stroke="#444" stroke-width="0.45"/>
<path d="M495.10 449.10V452.90M509.90 449.10V452.90" stroke="#333" stroke-width="0.5"/>
<rect x="510.2" y="452.20" width="15.20" height="2" fill="#fff" stroke="#444" stroke-width="0.45"/>
<path d="M510.50 451.60V455.40M525.10 451.60V455.40" stroke="#333" stroke-width="0.5"/>
<circle cx="475.2" cy="442.90" r="1.35" fill="#fff" stroke="#333" stroke-width="0.5"/>
<circle cx="476.9" cy="442.90" r="1.35" fill="#fff" stroke="#333" stroke-width="0.5"/>
<circle cx="479" cy="442.90" r="1.35" fill="#fff" stroke="#333" stroke-width="0.5"/>
<circle cx="481.1" cy="442.90" r="1.35" fill="#fff" stroke="#333" stroke-width="0.5"/>
<circle cx="483.4" cy="442.90" r="1.35" fill="#fff" stroke="#333" stroke-width="0.5"/>
<circle cx="485.7" cy="442.90" r="1.35" fill="#fff" stroke="#333" stroke-width="0.5"/>
<circle cx="494.4" cy="442.90" r="1.35" fill="#fff" stroke="#333" stroke-width="0.5"/>
<circle cx="496.5" cy="442.90" r="1.35" fill="#fff" stroke="#333" stroke-width="0.5"/>
<circle cx="500.9" cy="442.90" r="1.35" fill="#fff" stroke="#333" stroke-width="0.5"/>
<circle cx="502.7" cy="442.90" r="1.35" fill="#fff" stroke="#333" stroke-width="0.5"/>
<circle cx="504.9" cy="442.90" r="1.35" fill="#fff" stroke="#333" stroke-width="0.5"/>
<circle cx="506.7" cy="442.90" r="1.35" fill="#fff" stroke="#333" stroke-width="0.5"/>
<circle cx="508.8" cy="442.90" r="1.35" fill="#fff" stroke="#333" stroke-width="0.5"/>
<rect x="481.6" y="470.60" width="6.20" height="2" fill="#fff" stroke="#444" stroke-width="0.45"/>
<path d="M481.90 470.00V473.80M487.50 470.00V473.80" stroke="#333" stroke-width="0.5"/>
<rect x="490.4" y="470.60" width="23.60" height="2" fill="#fff" stroke="#444" stroke-width="0.45"/>
<path d="M490.70 470.00V473.80M513.70 470.00V473.80" stroke="#333" stroke-width="0.5"/>
<rect x="514" y="470.10" width="13.20" height="2" fill="#fff" stroke="#444" stroke-width="0.45"/>
<path d="M514.30 469.50V473.30M526.90 469.50V473.30" stroke="#333" stroke-width="0.5"/>
<rect x="527.2" y="468.10" width="9.60" height="2" fill="#fff" stroke="#444" stroke-width="0.45"/>
<path d="M527.50 467.50V471.30M536.50 467.50V471.30" stroke="#333" stroke-width="0.5"/>
<circle cx="481.6" cy="461.80" r="1.35" fill="#fff" stroke="#333" stroke-width="0.5"/>
<circle cx="483.4" cy="461.80" r="1.35" fill="#fff" stroke="#333" stroke-width="0.5"/>
<circle cx="486" cy="461.80" r="1.35" fill="#fff" stroke="#333" stroke-width="0.5"/>
<circle cx="487.8" cy="461.80" r="1.35" fill="#fff" stroke="#333" stroke-width="0.5"/>
<circle cx="493" cy="461.80" r="1.35" fill="#fff" stroke="#333" stroke-width="0.5"/>
<circle cx="499.2" cy="461.80" r="1.35" fill="#fff" stroke="#333" stroke-width="0.5"/>
<circle cx="500.9" cy="461.80" r="1.35" fill="#fff" stroke="#333" stroke-width="0.5"/>
<circle cx="509.7" cy="461.80" r="1.35" fill="#fff" stroke="#333" stroke-width="0.5"/>
<circle cx="525.4" cy="461.80" r="1.35" fill="#fff" stroke="#333" stroke-width="0.5"/>
<circle cx="527.2" cy="461.80" r="1.35" fill="#fff" stroke="#333" stroke-width="0.5"/>
<rect x="486.9" y="487.80" width="14.40" height="2" fill="#fff" stroke="#444" stroke-width="0.45"/>
<path d="M487.20 487.20V491.00M501.00 487.20V491.00" stroke="#333" stroke-width="0.5"/>
<rect x="501.3" y="490.30" width="24.10" height="2" fill="#fff" stroke="#444" stroke-width="0.45"/>
<path d="M501.60 489.70V493.50M525.10 489.70V493.50" stroke="#333" stroke-width="0.5"/>
<rect x="525.4" y="487.80" width="7.90" height="2" fill="#fff" stroke="#444" stroke-width="0.45"/>
<path d="M525.70 487.20V491.00M533.00 487.20V491.00" stroke="#333" stroke-width="0.5"/>
<rect x="533.3" y="488.30" width="2.80" height="2" fill="#fff" stroke="#444" stroke-width="0.45"/>
<path d="M533.60 487.70V491.50M535.80 487.70V491.50" stroke="#333" stroke-width="0.5"/>
<rect x="537.0999999999999" y="489.60" width="2.80" height="2" fill="#fff" stroke="#444" stroke-width="0.45"/>
<path d="M537.40 489.00V492.80M539.60 489.00V492.80" stroke="#333" stroke-width="0.5"/>
<rect x="540.9" y="488.30" width="2.80" height="2" fill="#fff" stroke="#444" stroke-width="0.45"/>
<path d="M541.20 487.70V491.50M543.40 487.70V491.50" stroke="#333" stroke-width="0.5"/>
<rect x="544.6999999999999" y="489.60" width="2.80" height="2" fill="#fff" stroke="#444" stroke-width="0.45"/>
<path d="M545.00 489.00V492.80M547.20 489.00V492.80" stroke="#333" stroke-width="0.5"/>
<rect x="548.5" y="488.30" width="2.80" height="2" fill="#fff" stroke="#444" stroke-width="0.45"/>
<path d="M548.80 487.70V491.50M551.00 487.70V491.50" stroke="#333" stroke-width="0.5"/>
<rect x="552.3" y="489.60" width="2.80" height="2" fill="#fff" stroke="#444" stroke-width="0.45"/>
<path d="M552.60 489.00V492.80M554.80 489.00V492.80" stroke="#333" stroke-width="0.5"/>
<rect x="556.0999999999999" y="488.30" width="2.80" height="2" fill="#fff" stroke="#444" stroke-width="0.45"/>
<path d="M556.40 487.70V491.50M558.60 487.70V491.50" stroke="#333" stroke-width="0.5"/>
<rect x="559.9" y="489.60" width="2.80" height="2" fill="#fff" stroke="#444" stroke-width="0.45"/>
<path d="M560.20 489.00V492.80M562.40 489.00V492.80" stroke="#333" stroke-width="0.5"/>
<rect x="563.6999999999999" y="488.30" width="2.80" height="2" fill="#fff" stroke="#444" stroke-width="0.45"/>
<path d="M564.00 487.70V491.50M566.20 487.70V491.50" stroke="#333" stroke-width="0.5"/>
<rect x="567.5" y="489.60" width="2.80" height="2" fill="#fff" stroke="#444" stroke-width="0.45"/>
<path d="M567.80 489.00V492.80M570.00 489.00V492.80" stroke="#333" stroke-width="0.5"/>
<rect x="571.3" y="488.30" width="2.80" height="2" fill="#fff" stroke="#444" stroke-width="0.45"/>
<path d="M571.60 487.70V491.50M573.80 487.70V491.50" stroke="#333" stroke-width="0.5"/>
<rect x="575.0999999999999" y="489.60" width="2.80" height="2" fill="#fff" stroke="#444" stroke-width="0.45"/>
<path d="M575.40 489.00V492.80M577.60 489.00V492.80" stroke="#333" stroke-width="0.5"/>
<circle cx="486.9" cy="481.00" r="1.35" fill="#fff" stroke="#333" stroke-width="0.5"/>
<circle cx="488.6" cy="481.00" r="1.35" fill="#fff" stroke="#333" stroke-width="0.5"/>
<circle cx="493" cy="481.00" r="1.35" fill="#fff" stroke="#333" stroke-width="0.5"/>
<circle cx="494.8" cy="481.00" r="1.35" fill="#fff" stroke="#333" stroke-width="0.5"/>
<circle cx="501.8" cy="481.00" r="1.35" fill="#fff" stroke="#333" stroke-width="0.5"/>
<circle cx="504.4" cy="481.00" r="1.35" fill="#fff" stroke="#333" stroke-width="0.5"/>
<circle cx="508.8" cy="481.00" r="1.35" fill="#fff" stroke="#333" stroke-width="0.5"/>
<circle cx="515.8" cy="481.00" r="1.35" fill="#fff" stroke="#333" stroke-width="0.5"/>
<circle cx="518.4" cy="481.00" r="1.35" fill="#fff" stroke="#333" stroke-width="0.5"/>
<circle cx="524.5" cy="481.00" r="1.35" fill="#fff" stroke="#333" stroke-width="0.5"/>
<circle cx="554.3" cy="481.00" r="1.35" fill="#fff" stroke="#333" stroke-width="0.5"/>
<circle cx="560.4" cy="481.00" r="1.35" fill="#fff" stroke="#333" stroke-width="0.5"/>
<circle cx="562.2" cy="481.00" r="1.35" fill="#fff" stroke="#333" stroke-width="0.5"/>
<text transform="translate(372.5 500.2) scale(1 1.15)" font-size="4" text-anchor="middle" fill="#000">July</text>
<text transform="translate(422.5 500.2) scale(1 1.15)" font-size="4" text-anchor="middle" fill="#000">October</text>
<text transform="translate(472.3 500.2) scale(1 1.15)" font-size="4" text-anchor="middle" fill="#000">2012</text>
<text transform="translate(522 500.2) scale(1 1.15)" font-size="4" text-anchor="middle" fill="#000">April</text>
<text transform="translate(571.6 500.2) scale(1 1.15)" font-size="4" text-anchor="middle" fill="#000">July</text>
<text transform="translate(621.5 500.2) scale(1 1.15)" font-size="4" text-anchor="middle" fill="#000">October</text>
<text transform="translate(671.7 500.2) scale(1 1.15)" font-size="4" text-anchor="middle" fill="#000">201.</text>
</svg>
</body></html>
